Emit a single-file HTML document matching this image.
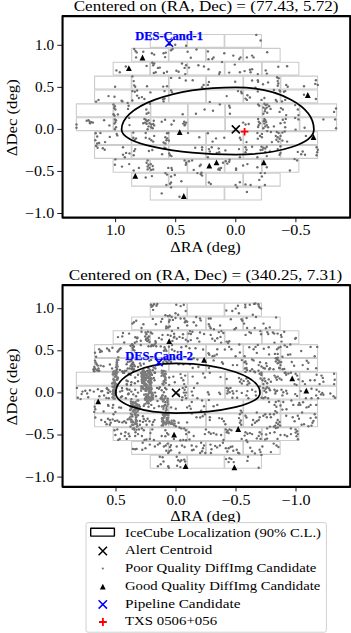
<!DOCTYPE html><html><head><meta charset="utf-8"><style>html,body{margin:0;padding:0;background:#fff;}svg{display:block;}</style></head><body><svg width="351" height="633" viewBox="0 0 351 633" font-family='"Liberation Serif", serif' stroke-linejoin="round"><rect width="351" height="633" fill="#fff"/><clipPath id="c1"><rect x="62.55" y="16.1" width="287.65" height="201.5"/></clipPath><g clip-path="url(#c1)"><g fill="none" stroke="#cccccc" stroke-width="1.1"><rect x="150.25" y="34.45" width="36.70" height="12.90"/><rect x="187.50" y="34.45" width="36.70" height="12.90"/><rect x="224.75" y="34.45" width="36.70" height="12.90"/><rect x="131.69" y="48.33" width="36.70" height="12.90"/><rect x="168.94" y="48.33" width="36.70" height="12.90"/><rect x="206.19" y="48.33" width="36.70" height="12.90"/><rect x="243.44" y="48.33" width="36.70" height="12.90"/><rect x="113.15" y="62.21" width="36.70" height="12.90"/><rect x="150.40" y="62.21" width="36.70" height="12.90"/><rect x="187.65" y="62.21" width="36.70" height="12.90"/><rect x="224.90" y="62.21" width="36.70" height="12.90"/><rect x="262.15" y="62.21" width="36.70" height="12.90"/><rect x="94.58" y="76.09" width="36.70" height="12.90"/><rect x="131.83" y="76.09" width="36.70" height="12.90"/><rect x="169.08" y="76.09" width="36.70" height="12.90"/><rect x="206.33" y="76.09" width="36.70" height="12.90"/><rect x="243.58" y="76.09" width="36.70" height="12.90"/><rect x="280.83" y="76.09" width="36.70" height="12.90"/><rect x="94.58" y="89.97" width="36.70" height="12.90"/><rect x="131.83" y="89.97" width="36.70" height="12.90"/><rect x="169.08" y="89.97" width="36.70" height="12.90"/><rect x="206.33" y="89.97" width="36.70" height="12.90"/><rect x="243.58" y="89.97" width="36.70" height="12.90"/><rect x="280.83" y="89.97" width="36.70" height="12.90"/><rect x="76.37" y="103.85" width="36.70" height="12.90"/><rect x="113.62" y="103.85" width="36.70" height="12.90"/><rect x="150.87" y="103.85" width="36.70" height="12.90"/><rect x="188.12" y="103.85" width="36.70" height="12.90"/><rect x="225.37" y="103.85" width="36.70" height="12.90"/><rect x="262.62" y="103.85" width="36.70" height="12.90"/><rect x="299.87" y="103.85" width="36.70" height="12.90"/><rect x="76.37" y="117.73" width="36.70" height="12.90"/><rect x="113.62" y="117.73" width="36.70" height="12.90"/><rect x="150.87" y="117.73" width="36.70" height="12.90"/><rect x="188.12" y="117.73" width="36.70" height="12.90"/><rect x="225.37" y="117.73" width="36.70" height="12.90"/><rect x="262.62" y="117.73" width="36.70" height="12.90"/><rect x="299.87" y="117.73" width="36.70" height="12.90"/><rect x="94.58" y="131.61" width="36.70" height="12.90"/><rect x="131.83" y="131.61" width="36.70" height="12.90"/><rect x="169.08" y="131.61" width="36.70" height="12.90"/><rect x="206.33" y="131.61" width="36.70" height="12.90"/><rect x="243.58" y="131.61" width="36.70" height="12.90"/><rect x="280.83" y="131.61" width="36.70" height="12.90"/><rect x="94.58" y="145.49" width="36.70" height="12.90"/><rect x="131.83" y="145.49" width="36.70" height="12.90"/><rect x="169.08" y="145.49" width="36.70" height="12.90"/><rect x="206.33" y="145.49" width="36.70" height="12.90"/><rect x="243.58" y="145.49" width="36.70" height="12.90"/><rect x="280.83" y="145.49" width="36.70" height="12.90"/><rect x="113.15" y="159.37" width="36.70" height="12.90"/><rect x="150.40" y="159.37" width="36.70" height="12.90"/><rect x="187.65" y="159.37" width="36.70" height="12.90"/><rect x="224.90" y="159.37" width="36.70" height="12.90"/><rect x="262.15" y="159.37" width="36.70" height="12.90"/><rect x="131.69" y="173.25" width="36.70" height="12.90"/><rect x="168.94" y="173.25" width="36.70" height="12.90"/><rect x="206.19" y="173.25" width="36.70" height="12.90"/><rect x="243.44" y="173.25" width="36.70" height="12.90"/><rect x="150.25" y="187.13" width="36.70" height="12.90"/><rect x="187.50" y="187.13" width="36.70" height="12.90"/><rect x="224.75" y="187.13" width="36.70" height="12.90"/></g><g fill="#6c6c6c"><circle cx="134.2" cy="49.0" r="1.2"/><circle cx="135.5" cy="50.9" r="1.2"/><circle cx="136.7" cy="52.4" r="1.2"/><circle cx="136.1" cy="57.4" r="1.2"/><circle cx="125.8" cy="66.5" r="1.2"/><circle cx="143.3" cy="51.8" r="1.2"/><circle cx="151.9" cy="53.3" r="1.2"/><circle cx="154.2" cy="54.6" r="1.2"/><circle cx="163.6" cy="53.3" r="1.2"/><circle cx="165.8" cy="52.6" r="1.2"/><circle cx="165.1" cy="57.1" r="1.2"/><circle cx="171.1" cy="50.3" r="1.2"/><circle cx="172.6" cy="49.0" r="1.2"/><circle cx="175.2" cy="44.7" r="1.2"/><circle cx="186.1" cy="45.8" r="1.2"/><circle cx="187.6" cy="51.8" r="1.2"/><circle cx="196.5" cy="49.5" r="1.2"/><circle cx="190.8" cy="57.8" r="1.2"/><circle cx="152.3" cy="62.7" r="1.2"/><circle cx="154.2" cy="63.5" r="1.2"/><circle cx="153.2" cy="65.3" r="1.2"/><circle cx="146.6" cy="65.9" r="1.2"/><circle cx="182.0" cy="63.5" r="1.2"/><circle cx="186.1" cy="65.3" r="1.2"/><circle cx="198.4" cy="65.3" r="1.2"/><circle cx="204.0" cy="66.5" r="1.2"/><circle cx="256.3" cy="34.9" r="1.2"/><circle cx="260.6" cy="40.5" r="1.2"/><circle cx="207.9" cy="51.4" r="1.2"/><circle cx="208.5" cy="59.3" r="1.2"/><circle cx="212.3" cy="59.0" r="1.2"/><circle cx="213.6" cy="57.4" r="1.2"/><circle cx="224.3" cy="53.3" r="1.2"/><circle cx="233.3" cy="55.6" r="1.2"/><circle cx="239.3" cy="59.0" r="1.2"/><circle cx="240.5" cy="57.4" r="1.2"/><circle cx="246.9" cy="57.4" r="1.2"/><circle cx="252.1" cy="55.6" r="1.2"/><circle cx="253.6" cy="57.4" r="1.2"/><circle cx="267.2" cy="52.2" r="1.2"/><circle cx="222.0" cy="62.1" r="1.2"/><circle cx="234.8" cy="64.6" r="1.2"/><circle cx="278.3" cy="66.8" r="1.2"/><circle cx="287.1" cy="66.2" r="1.2"/><circle cx="116.4" cy="70.4" r="1.2"/><circle cx="119.8" cy="72.3" r="1.2"/><circle cx="115.1" cy="86.7" r="1.2"/><circle cx="132.4" cy="76.4" r="1.2"/><circle cx="133.7" cy="81.1" r="1.2"/><circle cx="134.2" cy="85.4" r="1.2"/><circle cx="135.2" cy="86.7" r="1.2"/><circle cx="132.4" cy="91.1" r="1.2"/><circle cx="134.8" cy="91.8" r="1.2"/><circle cx="137.1" cy="90.5" r="1.2"/><circle cx="137.1" cy="95.6" r="1.2"/><circle cx="138.9" cy="98.0" r="1.2"/><circle cx="108.5" cy="96.1" r="1.2"/><circle cx="114.5" cy="96.7" r="1.2"/><circle cx="98.5" cy="99.9" r="1.2"/><circle cx="121.6" cy="100.8" r="1.2"/><circle cx="132.4" cy="100.5" r="1.2"/><circle cx="157.9" cy="67.9" r="1.2"/><circle cx="159.8" cy="67.6" r="1.2"/><circle cx="153.8" cy="73.0" r="1.2"/><circle cx="155.7" cy="72.3" r="1.2"/><circle cx="163.9" cy="73.0" r="1.2"/><circle cx="167.0" cy="71.7" r="1.2"/><circle cx="176.4" cy="70.8" r="1.2"/><circle cx="178.6" cy="71.7" r="1.2"/><circle cx="184.6" cy="67.9" r="1.2"/><circle cx="189.0" cy="67.6" r="1.2"/><circle cx="185.2" cy="74.1" r="1.2"/><circle cx="171.1" cy="77.9" r="1.2"/><circle cx="179.5" cy="77.9" r="1.2"/><circle cx="185.8" cy="80.5" r="1.2"/><circle cx="192.7" cy="80.2" r="1.2"/><circle cx="147.0" cy="86.2" r="1.2"/><circle cx="163.2" cy="86.6" r="1.2"/><circle cx="167.0" cy="86.2" r="1.2"/><circle cx="150.4" cy="92.4" r="1.2"/><circle cx="164.5" cy="91.1" r="1.2"/><circle cx="171.1" cy="90.5" r="1.2"/><circle cx="172.0" cy="92.4" r="1.2"/><circle cx="203.6" cy="84.9" r="1.2"/><circle cx="202.1" cy="87.3" r="1.2"/><circle cx="141.9" cy="97.1" r="1.2"/><circle cx="144.4" cy="99.0" r="1.2"/><circle cx="163.2" cy="99.3" r="1.2"/><circle cx="164.5" cy="98.6" r="1.2"/><circle cx="208.5" cy="69.3" r="1.2"/><circle cx="219.8" cy="72.3" r="1.2"/><circle cx="219.2" cy="74.1" r="1.2"/><circle cx="229.2" cy="72.6" r="1.2"/><circle cx="239.9" cy="72.3" r="1.2"/><circle cx="244.6" cy="71.1" r="1.2"/><circle cx="249.9" cy="69.8" r="1.2"/><circle cx="252.1" cy="69.3" r="1.2"/><circle cx="250.6" cy="72.3" r="1.2"/><circle cx="257.8" cy="74.1" r="1.2"/><circle cx="265.7" cy="70.4" r="1.2"/><circle cx="266.8" cy="73.6" r="1.2"/><circle cx="208.9" cy="82.0" r="1.2"/><circle cx="207.9" cy="84.9" r="1.2"/><circle cx="235.2" cy="81.7" r="1.2"/><circle cx="252.1" cy="80.5" r="1.2"/><circle cx="257.8" cy="80.2" r="1.2"/><circle cx="258.1" cy="81.7" r="1.2"/><circle cx="263.0" cy="84.3" r="1.2"/><circle cx="268.1" cy="82.4" r="1.2"/><circle cx="255.5" cy="87.7" r="1.2"/><circle cx="238.0" cy="91.1" r="1.2"/><circle cx="241.2" cy="91.8" r="1.2"/><circle cx="241.8" cy="93.3" r="1.2"/><circle cx="257.8" cy="91.4" r="1.2"/><circle cx="226.7" cy="96.1" r="1.2"/><circle cx="247.4" cy="95.2" r="1.2"/><circle cx="245.5" cy="98.6" r="1.2"/><circle cx="246.9" cy="99.9" r="1.2"/><circle cx="249.9" cy="97.5" r="1.2"/><circle cx="264.4" cy="98.0" r="1.2"/><circle cx="261.5" cy="99.9" r="1.2"/><circle cx="277.1" cy="77.3" r="1.2"/><circle cx="278.6" cy="78.3" r="1.2"/><circle cx="277.7" cy="81.1" r="1.2"/><circle cx="278.3" cy="83.5" r="1.2"/><circle cx="277.7" cy="85.8" r="1.2"/><circle cx="286.2" cy="84.9" r="1.2"/><circle cx="287.7" cy="86.7" r="1.2"/><circle cx="304.0" cy="86.2" r="1.2"/><circle cx="315.9" cy="80.2" r="1.2"/><circle cx="315.3" cy="83.9" r="1.2"/><circle cx="317.8" cy="84.9" r="1.2"/><circle cx="273.9" cy="89.9" r="1.2"/><circle cx="279.6" cy="90.5" r="1.2"/><circle cx="280.1" cy="91.4" r="1.2"/><circle cx="283.9" cy="91.8" r="1.2"/><circle cx="285.2" cy="91.1" r="1.2"/><circle cx="304.0" cy="94.8" r="1.2"/><circle cx="315.9" cy="99.0" r="1.2"/><circle cx="285.2" cy="99.9" r="1.2"/><circle cx="275.8" cy="99.9" r="1.2"/><circle cx="96.1" cy="101.6" r="1.2"/><circle cx="113.5" cy="104.4" r="1.2"/><circle cx="114.9" cy="106.3" r="1.2"/><circle cx="114.1" cy="108.1" r="1.2"/><circle cx="115.4" cy="109.5" r="1.2"/><circle cx="122.4" cy="101.4" r="1.2"/><circle cx="127.7" cy="102.9" r="1.2"/><circle cx="128.6" cy="105.7" r="1.2"/><circle cx="128.0" cy="108.9" r="1.2"/><circle cx="113.5" cy="114.2" r="1.2"/><circle cx="114.5" cy="115.7" r="1.2"/><circle cx="117.9" cy="114.5" r="1.2"/><circle cx="114.9" cy="119.4" r="1.2"/><circle cx="116.0" cy="120.2" r="1.2"/><circle cx="115.4" cy="122.1" r="1.2"/><circle cx="114.5" cy="123.6" r="1.2"/><circle cx="86.7" cy="120.7" r="1.2"/><circle cx="88.5" cy="120.2" r="1.2"/><circle cx="89.7" cy="121.7" r="1.2"/><circle cx="91.5" cy="122.1" r="1.2"/><circle cx="92.9" cy="122.6" r="1.2"/><circle cx="90.0" cy="123.2" r="1.2"/><circle cx="104.1" cy="120.2" r="1.2"/><circle cx="109.4" cy="125.4" r="1.2"/><circle cx="76.5" cy="124.5" r="1.2"/><circle cx="76.5" cy="127.7" r="1.2"/><circle cx="116.0" cy="127.3" r="1.2"/><circle cx="114.9" cy="129.2" r="1.2"/><circle cx="129.5" cy="125.1" r="1.2"/><circle cx="129.2" cy="117.9" r="1.2"/><circle cx="95.7" cy="133.3" r="1.2"/><circle cx="100.4" cy="133.0" r="1.2"/><circle cx="116.7" cy="133.9" r="1.2"/><circle cx="133.3" cy="132.6" r="1.2"/><circle cx="150.0" cy="103.8" r="1.2"/><circle cx="163.6" cy="101.4" r="1.2"/><circle cx="146.3" cy="109.5" r="1.2"/><circle cx="146.6" cy="113.8" r="1.2"/><circle cx="148.5" cy="112.7" r="1.2"/><circle cx="182.7" cy="114.2" r="1.2"/><circle cx="195.9" cy="113.8" r="1.2"/><circle cx="204.6" cy="109.5" r="1.2"/><circle cx="144.4" cy="118.9" r="1.2"/><circle cx="145.7" cy="119.8" r="1.2"/><circle cx="147.0" cy="121.3" r="1.2"/><circle cx="148.5" cy="120.2" r="1.2"/><circle cx="145.1" cy="122.6" r="1.2"/><circle cx="146.6" cy="123.9" r="1.2"/><circle cx="149.5" cy="123.2" r="1.2"/><circle cx="151.3" cy="124.5" r="1.2"/><circle cx="153.2" cy="123.9" r="1.2"/><circle cx="154.2" cy="125.4" r="1.2"/><circle cx="148.5" cy="126.4" r="1.2"/><circle cx="151.3" cy="127.3" r="1.2"/><circle cx="152.7" cy="128.3" r="1.2"/><circle cx="147.6" cy="129.2" r="1.2"/><circle cx="143.3" cy="123.2" r="1.2"/><circle cx="153.8" cy="120.7" r="1.2"/><circle cx="161.7" cy="121.7" r="1.2"/><circle cx="165.1" cy="119.8" r="1.2"/><circle cx="173.9" cy="120.7" r="1.2"/><circle cx="171.5" cy="124.5" r="1.2"/><circle cx="184.2" cy="121.7" r="1.2"/><circle cx="183.3" cy="123.6" r="1.2"/><circle cx="185.2" cy="124.5" r="1.2"/><circle cx="186.1" cy="122.6" r="1.2"/><circle cx="184.6" cy="125.4" r="1.2"/><circle cx="167.0" cy="133.3" r="1.2"/><circle cx="168.3" cy="133.0" r="1.2"/><circle cx="188.0" cy="133.0" r="1.2"/><circle cx="145.7" cy="133.0" r="1.2"/><circle cx="209.8" cy="101.9" r="1.2"/><circle cx="219.8" cy="104.4" r="1.2"/><circle cx="229.2" cy="105.7" r="1.2"/><circle cx="229.9" cy="107.6" r="1.2"/><circle cx="213.0" cy="110.8" r="1.2"/><circle cx="229.9" cy="113.8" r="1.2"/><circle cx="258.1" cy="104.4" r="1.2"/><circle cx="259.3" cy="105.7" r="1.2"/><circle cx="264.4" cy="103.8" r="1.2"/><circle cx="265.7" cy="105.1" r="1.2"/><circle cx="267.2" cy="104.4" r="1.2"/><circle cx="263.4" cy="107.6" r="1.2"/><circle cx="265.3" cy="108.9" r="1.2"/><circle cx="266.8" cy="107.6" r="1.2"/><circle cx="264.9" cy="111.3" r="1.2"/><circle cx="263.4" cy="113.8" r="1.2"/><circle cx="267.2" cy="112.7" r="1.2"/><circle cx="269.1" cy="106.3" r="1.2"/><circle cx="270.6" cy="108.9" r="1.2"/><circle cx="258.1" cy="118.9" r="1.2"/><circle cx="258.7" cy="121.7" r="1.2"/><circle cx="260.0" cy="123.2" r="1.2"/><circle cx="258.7" cy="125.1" r="1.2"/><circle cx="258.1" cy="127.0" r="1.2"/><circle cx="264.4" cy="118.9" r="1.2"/><circle cx="265.3" cy="120.2" r="1.2"/><circle cx="263.8" cy="121.3" r="1.2"/><circle cx="266.2" cy="122.1" r="1.2"/><circle cx="264.4" cy="123.6" r="1.2"/><circle cx="266.8" cy="125.1" r="1.2"/><circle cx="265.3" cy="126.4" r="1.2"/><circle cx="268.1" cy="127.3" r="1.2"/><circle cx="263.4" cy="128.3" r="1.2"/><circle cx="243.1" cy="122.6" r="1.2"/><circle cx="245.5" cy="124.5" r="1.2"/><circle cx="248.7" cy="124.0" r="1.2"/><circle cx="257.4" cy="133.0" r="1.2"/><circle cx="267.2" cy="131.1" r="1.2"/><circle cx="270.9" cy="132.0" r="1.2"/><circle cx="261.9" cy="133.9" r="1.2"/><circle cx="207.9" cy="133.3" r="1.2"/><circle cx="276.8" cy="101.4" r="1.2"/><circle cx="282.0" cy="101.4" r="1.2"/><circle cx="295.2" cy="105.1" r="1.2"/><circle cx="280.9" cy="108.1" r="1.2"/><circle cx="282.8" cy="109.5" r="1.2"/><circle cx="279.6" cy="111.9" r="1.2"/><circle cx="286.2" cy="115.1" r="1.2"/><circle cx="297.8" cy="109.5" r="1.2"/><circle cx="298.4" cy="115.1" r="1.2"/><circle cx="295.2" cy="117.9" r="1.2"/><circle cx="298.4" cy="119.4" r="1.2"/><circle cx="282.8" cy="119.8" r="1.2"/><circle cx="285.8" cy="118.9" r="1.2"/><circle cx="280.5" cy="123.2" r="1.2"/><circle cx="284.7" cy="122.6" r="1.2"/><circle cx="273.9" cy="126.4" r="1.2"/><circle cx="285.2" cy="127.3" r="1.2"/><circle cx="295.6" cy="129.6" r="1.2"/><circle cx="304.6" cy="127.7" r="1.2"/><circle cx="323.4" cy="119.4" r="1.2"/><circle cx="335.1" cy="119.4" r="1.2"/><circle cx="336.0" cy="108.5" r="1.2"/><circle cx="334.1" cy="111.9" r="1.2"/><circle cx="336.0" cy="128.3" r="1.2"/><circle cx="276.8" cy="132.0" r="1.2"/><circle cx="278.6" cy="133.0" r="1.2"/><circle cx="282.4" cy="132.6" r="1.2"/><circle cx="284.7" cy="131.5" r="1.2"/><circle cx="97.2" cy="136.5" r="1.2"/><circle cx="109.8" cy="136.9" r="1.2"/><circle cx="117.3" cy="135.4" r="1.2"/><circle cx="95.3" cy="140.3" r="1.2"/><circle cx="97.2" cy="143.5" r="1.2"/><circle cx="99.1" cy="142.9" r="1.2"/><circle cx="96.1" cy="145.9" r="1.2"/><circle cx="97.6" cy="147.8" r="1.2"/><circle cx="105.1" cy="142.1" r="1.2"/><circle cx="102.8" cy="148.2" r="1.2"/><circle cx="104.7" cy="149.7" r="1.2"/><circle cx="123.0" cy="147.2" r="1.2"/><circle cx="133.3" cy="137.8" r="1.2"/><circle cx="134.8" cy="139.7" r="1.2"/><circle cx="136.1" cy="138.4" r="1.2"/><circle cx="135.2" cy="149.1" r="1.2"/><circle cx="134.2" cy="151.0" r="1.2"/><circle cx="126.1" cy="152.9" r="1.2"/><circle cx="129.5" cy="153.4" r="1.2"/><circle cx="123.0" cy="154.7" r="1.2"/><circle cx="124.8" cy="157.2" r="1.2"/><circle cx="133.7" cy="155.3" r="1.2"/><circle cx="115.4" cy="159.4" r="1.2"/><circle cx="114.9" cy="164.7" r="1.2"/><circle cx="122.0" cy="166.6" r="1.2"/><circle cx="129.2" cy="164.1" r="1.2"/><circle cx="138.9" cy="167.9" r="1.2"/><circle cx="145.7" cy="137.8" r="1.2"/><circle cx="149.5" cy="138.8" r="1.2"/><circle cx="151.3" cy="140.3" r="1.2"/><circle cx="153.2" cy="141.6" r="1.2"/><circle cx="154.2" cy="135.9" r="1.2"/><circle cx="165.4" cy="137.3" r="1.2"/><circle cx="167.3" cy="138.4" r="1.2"/><circle cx="166.4" cy="140.3" r="1.2"/><circle cx="168.8" cy="140.6" r="1.2"/><circle cx="165.4" cy="143.5" r="1.2"/><circle cx="163.6" cy="142.5" r="1.2"/><circle cx="164.5" cy="147.8" r="1.2"/><circle cx="165.8" cy="148.5" r="1.2"/><circle cx="148.9" cy="151.0" r="1.2"/><circle cx="152.3" cy="150.0" r="1.2"/><circle cx="162.1" cy="154.2" r="1.2"/><circle cx="169.2" cy="153.4" r="1.2"/><circle cx="170.1" cy="155.3" r="1.2"/><circle cx="171.5" cy="156.1" r="1.2"/><circle cx="199.3" cy="137.3" r="1.2"/><circle cx="195.2" cy="147.8" r="1.2"/><circle cx="202.1" cy="147.2" r="1.2"/><circle cx="202.1" cy="149.7" r="1.2"/><circle cx="147.6" cy="160.4" r="1.2"/><circle cx="146.6" cy="162.8" r="1.2"/><circle cx="148.5" cy="164.7" r="1.2"/><circle cx="150.8" cy="164.1" r="1.2"/><circle cx="152.7" cy="166.0" r="1.2"/><circle cx="147.6" cy="166.6" r="1.2"/><circle cx="149.5" cy="167.9" r="1.2"/><circle cx="168.3" cy="167.9" r="1.2"/><circle cx="171.5" cy="167.9" r="1.2"/><circle cx="184.6" cy="160.4" r="1.2"/><circle cx="186.1" cy="162.8" r="1.2"/><circle cx="185.8" cy="164.7" r="1.2"/><circle cx="189.0" cy="161.3" r="1.2"/><circle cx="192.1" cy="160.4" r="1.2"/><circle cx="200.8" cy="164.7" r="1.2"/><circle cx="199.7" cy="166.0" r="1.2"/><circle cx="216.0" cy="138.4" r="1.2"/><circle cx="224.3" cy="137.8" r="1.2"/><circle cx="212.6" cy="141.6" r="1.2"/><circle cx="239.9" cy="137.8" r="1.2"/><circle cx="240.8" cy="139.7" r="1.2"/><circle cx="246.5" cy="142.1" r="1.2"/><circle cx="257.8" cy="138.8" r="1.2"/><circle cx="260.0" cy="135.9" r="1.2"/><circle cx="261.9" cy="137.3" r="1.2"/><circle cx="271.9" cy="142.1" r="1.2"/><circle cx="208.9" cy="149.1" r="1.2"/><circle cx="209.8" cy="151.5" r="1.2"/><circle cx="211.7" cy="147.2" r="1.2"/><circle cx="218.7" cy="148.5" r="1.2"/><circle cx="216.8" cy="152.9" r="1.2"/><circle cx="219.2" cy="152.3" r="1.2"/><circle cx="225.4" cy="150.4" r="1.2"/><circle cx="239.0" cy="149.1" r="1.2"/><circle cx="245.5" cy="147.2" r="1.2"/><circle cx="246.5" cy="149.7" r="1.2"/><circle cx="245.5" cy="152.3" r="1.2"/><circle cx="252.1" cy="146.7" r="1.2"/><circle cx="261.5" cy="146.7" r="1.2"/><circle cx="263.4" cy="147.8" r="1.2"/><circle cx="260.6" cy="150.0" r="1.2"/><circle cx="262.5" cy="149.7" r="1.2"/><circle cx="265.3" cy="148.5" r="1.2"/><circle cx="266.8" cy="146.7" r="1.2"/><circle cx="265.3" cy="151.9" r="1.2"/><circle cx="270.0" cy="151.5" r="1.2"/><circle cx="207.9" cy="157.2" r="1.2"/><circle cx="239.9" cy="157.2" r="1.2"/><circle cx="257.4" cy="157.2" r="1.2"/><circle cx="266.8" cy="156.1" r="1.2"/><circle cx="225.8" cy="161.3" r="1.2"/><circle cx="227.3" cy="163.6" r="1.2"/><circle cx="229.2" cy="161.7" r="1.2"/><circle cx="229.6" cy="159.8" r="1.2"/><circle cx="223.0" cy="162.8" r="1.2"/><circle cx="221.1" cy="167.9" r="1.2"/><circle cx="219.2" cy="168.5" r="1.2"/><circle cx="243.1" cy="165.5" r="1.2"/><circle cx="247.4" cy="164.1" r="1.2"/><circle cx="236.1" cy="168.5" r="1.2"/><circle cx="257.4" cy="167.3" r="1.2"/><circle cx="266.8" cy="167.3" r="1.2"/><circle cx="275.8" cy="135.9" r="1.2"/><circle cx="277.7" cy="137.3" r="1.2"/><circle cx="276.4" cy="139.7" r="1.2"/><circle cx="279.6" cy="138.8" r="1.2"/><circle cx="280.5" cy="135.9" r="1.2"/><circle cx="278.3" cy="141.6" r="1.2"/><circle cx="282.4" cy="140.6" r="1.2"/><circle cx="287.1" cy="141.6" r="1.2"/><circle cx="280.5" cy="146.3" r="1.2"/><circle cx="277.7" cy="149.1" r="1.2"/><circle cx="279.6" cy="154.7" r="1.2"/><circle cx="280.5" cy="152.9" r="1.2"/><circle cx="297.8" cy="151.9" r="1.2"/><circle cx="301.2" cy="154.2" r="1.2"/><circle cx="302.7" cy="151.5" r="1.2"/><circle cx="305.0" cy="154.7" r="1.2"/><circle cx="316.6" cy="147.2" r="1.2"/><circle cx="317.8" cy="149.7" r="1.2"/><circle cx="317.2" cy="152.3" r="1.2"/><circle cx="316.6" cy="155.3" r="1.2"/><circle cx="294.6" cy="159.1" r="1.2"/><circle cx="297.1" cy="160.4" r="1.2"/><circle cx="305.9" cy="135.9" r="1.2"/><circle cx="133.7" cy="170.5" r="1.2"/><circle cx="147.6" cy="169.4" r="1.2"/><circle cx="151.3" cy="169.9" r="1.2"/><circle cx="153.2" cy="169.4" r="1.2"/><circle cx="145.7" cy="177.5" r="1.2"/><circle cx="151.9" cy="176.1" r="1.2"/><circle cx="165.4" cy="173.1" r="1.2"/><circle cx="167.0" cy="174.6" r="1.2"/><circle cx="171.1" cy="176.5" r="1.2"/><circle cx="174.8" cy="175.0" r="1.2"/><circle cx="172.0" cy="169.9" r="1.2"/><circle cx="181.4" cy="181.2" r="1.2"/><circle cx="171.1" cy="182.5" r="1.2"/><circle cx="170.1" cy="183.7" r="1.2"/><circle cx="166.4" cy="185.0" r="1.2"/><circle cx="171.1" cy="187.4" r="1.2"/><circle cx="193.7" cy="169.9" r="1.2"/><circle cx="197.4" cy="173.1" r="1.2"/><circle cx="200.8" cy="174.3" r="1.2"/><circle cx="202.1" cy="175.6" r="1.2"/><circle cx="201.5" cy="172.8" r="1.2"/><circle cx="161.7" cy="193.4" r="1.2"/><circle cx="179.5" cy="196.8" r="1.2"/><circle cx="218.3" cy="169.4" r="1.2"/><circle cx="219.8" cy="169.9" r="1.2"/><circle cx="236.1" cy="169.9" r="1.2"/><circle cx="260.6" cy="173.1" r="1.2"/><circle cx="264.9" cy="173.1" r="1.2"/><circle cx="261.9" cy="176.5" r="1.2"/><circle cx="259.3" cy="179.9" r="1.2"/><circle cx="208.9" cy="182.5" r="1.2"/><circle cx="210.8" cy="184.0" r="1.2"/><circle cx="235.6" cy="185.0" r="1.2"/><circle cx="237.1" cy="187.4" r="1.2"/><circle cx="239.9" cy="182.2" r="1.2"/><circle cx="245.5" cy="184.4" r="1.2"/><circle cx="250.6" cy="185.0" r="1.2"/><circle cx="259.3" cy="187.4" r="1.2"/><circle cx="264.9" cy="185.0" r="1.2"/><circle cx="246.9" cy="191.9" r="1.2"/><circle cx="289.9" cy="170.5" r="1.2"/></g><g fill="#7c7c7c"></g><g fill="#000"><path d="M142.50,54.60 L145.40,60.40 L139.60,60.40 Z"/><path d="M128.90,65.20 L131.80,71.00 L126.00,71.00 Z"/><path d="M307.80,92.10 L310.70,97.90 L304.90,97.90 Z"/><path d="M179.70,129.30 L182.60,135.10 L176.80,135.10 Z"/><path d="M313.50,134.10 L316.40,139.90 L310.60,139.90 Z"/><path d="M209.30,162.80 L212.20,168.60 L206.40,168.60 Z"/><path d="M216.50,159.40 L219.40,165.20 L213.60,165.20 Z"/><path d="M263.80,159.50 L266.70,165.30 L260.90,165.30 Z"/><path d="M135.30,173.00 L138.20,178.80 L132.40,178.80 Z"/><path d="M183.80,193.10 L186.70,198.90 L180.90,198.90 Z"/></g><path d="M121.60,129.40 A114.20,42.05 0 0 1 235.80,87.35 A78.10,42.05 0 0 1 313.90,129.40 A78.10,25.20 0 0 1 235.80,154.60 A114.20,25.20 0 0 1 121.60,129.40 Z" fill="none" stroke="#000" stroke-width="1.75"/><path d="M231.80,125.40 L239.80,133.40 M231.80,133.40 L239.80,125.40" stroke="#000" stroke-width="1.5" fill="none"/><path d="M240.80,131.70 L248.40,131.70 M244.60,127.90 L244.60,135.50" stroke="#ff0000" stroke-width="1.8" fill="none"/><g fill="#000"><path d="M169.20,41.00 L171.50,45.60 L166.90,45.60 Z"/></g><path d="M165.40,39.20 L173.00,46.80 M165.40,46.80 L173.00,39.20" stroke="#0000ff" stroke-width="1.6" fill="none"/><text x="135.2" y="40.2" font-size="12" font-weight="bold" fill="#0000ff" stroke="#0000ff" stroke-width="0.25" textLength="67.8" lengthAdjust="spacingAndGlyphs">DES-Cand-1</text></g><rect x="62.55" y="16.1" width="287.65" height="201.5" fill="none" stroke="#000" stroke-width="2.1"/><path d="M57.3,45.30 H62.55 M57.3,87.35 H62.55 M57.3,129.40 H62.55 M57.3,171.45 H62.55 M57.3,213.50 H62.55 M115.60,217.6 V222.20 M175.70,217.6 V222.20 M235.80,217.6 V222.20 M295.90,217.6 V222.20" stroke="#000" stroke-width="0.9" fill="none"/><text x="54.2" y="49.70" font-size="13.6" text-anchor="end" textLength="19.09" lengthAdjust="spacingAndGlyphs" stroke="#000" stroke-width="0">1.0</text><text x="54.2" y="91.75" font-size="13.6" text-anchor="end" textLength="19.09" lengthAdjust="spacingAndGlyphs" stroke="#000" stroke-width="0">0.5</text><text x="54.2" y="133.80" font-size="13.6" text-anchor="end" textLength="19.09" lengthAdjust="spacingAndGlyphs" stroke="#000" stroke-width="0">0.0</text><text x="54.2" y="175.85" font-size="13.6" text-anchor="end" textLength="29.16" lengthAdjust="spacingAndGlyphs" stroke="#000" stroke-width="0">−0.5</text><text x="54.2" y="217.90" font-size="13.6" text-anchor="end" textLength="29.16" lengthAdjust="spacingAndGlyphs" stroke="#000" stroke-width="0">−1.0</text><text x="115.60" y="235.30" font-size="13.6" text-anchor="middle" textLength="19.09" lengthAdjust="spacingAndGlyphs" stroke="#000" stroke-width="0">1.0</text><text x="175.70" y="235.30" font-size="13.6" text-anchor="middle" textLength="19.09" lengthAdjust="spacingAndGlyphs" stroke="#000" stroke-width="0">0.5</text><text x="235.80" y="235.30" font-size="13.6" text-anchor="middle" textLength="19.09" lengthAdjust="spacingAndGlyphs" stroke="#000" stroke-width="0">0.0</text><text x="295.90" y="235.30" font-size="13.6" text-anchor="middle" textLength="29.16" lengthAdjust="spacingAndGlyphs" stroke="#000" stroke-width="0">−0.5</text><text x="206.1" y="10.60" font-size="15.0" text-anchor="middle" textLength="264.83" lengthAdjust="spacingAndGlyphs" stroke="#000" stroke-width="0">Centered on (RA, Dec) = (77.43, 5.72)</text><text x="205.5" y="251.80" font-size="15.0" text-anchor="middle" textLength="70.5" lengthAdjust="spacingAndGlyphs" stroke="#000" stroke-width="0">ΔRA (deg)</text><text transform="translate(17.1,117.75) rotate(-90)" x="0" y="0" font-size="15.0" text-anchor="middle" textLength="77.05" lengthAdjust="spacingAndGlyphs" stroke="#000" stroke-width="0">ΔDec (deg)</text><clipPath id="c2"><rect x="62.55" y="285.15" width="287.65" height="201.70000000000005"/></clipPath><g clip-path="url(#c2)"><g fill="none" stroke="#cccccc" stroke-width="1.1"><rect x="150.25" y="303.15" width="36.70" height="12.90"/><rect x="187.50" y="303.15" width="36.70" height="12.90"/><rect x="224.75" y="303.15" width="36.70" height="12.90"/><rect x="131.69" y="316.98" width="36.70" height="12.90"/><rect x="168.94" y="316.98" width="36.70" height="12.90"/><rect x="206.19" y="316.98" width="36.70" height="12.90"/><rect x="243.44" y="316.98" width="36.70" height="12.90"/><rect x="113.15" y="330.81" width="36.70" height="12.90"/><rect x="150.40" y="330.81" width="36.70" height="12.90"/><rect x="187.65" y="330.81" width="36.70" height="12.90"/><rect x="224.90" y="330.81" width="36.70" height="12.90"/><rect x="262.15" y="330.81" width="36.70" height="12.90"/><rect x="94.58" y="344.64" width="36.70" height="12.90"/><rect x="131.83" y="344.64" width="36.70" height="12.90"/><rect x="169.08" y="344.64" width="36.70" height="12.90"/><rect x="206.33" y="344.64" width="36.70" height="12.90"/><rect x="243.58" y="344.64" width="36.70" height="12.90"/><rect x="280.83" y="344.64" width="36.70" height="12.90"/><rect x="94.58" y="358.47" width="36.70" height="12.90"/><rect x="131.83" y="358.47" width="36.70" height="12.90"/><rect x="169.08" y="358.47" width="36.70" height="12.90"/><rect x="206.33" y="358.47" width="36.70" height="12.90"/><rect x="243.58" y="358.47" width="36.70" height="12.90"/><rect x="280.83" y="358.47" width="36.70" height="12.90"/><rect x="76.37" y="372.30" width="36.70" height="12.90"/><rect x="113.62" y="372.30" width="36.70" height="12.90"/><rect x="150.87" y="372.30" width="36.70" height="12.90"/><rect x="188.12" y="372.30" width="36.70" height="12.90"/><rect x="225.37" y="372.30" width="36.70" height="12.90"/><rect x="262.62" y="372.30" width="36.70" height="12.90"/><rect x="299.87" y="372.30" width="36.70" height="12.90"/><rect x="76.37" y="386.13" width="36.70" height="12.90"/><rect x="113.62" y="386.13" width="36.70" height="12.90"/><rect x="150.87" y="386.13" width="36.70" height="12.90"/><rect x="188.12" y="386.13" width="36.70" height="12.90"/><rect x="225.37" y="386.13" width="36.70" height="12.90"/><rect x="262.62" y="386.13" width="36.70" height="12.90"/><rect x="299.87" y="386.13" width="36.70" height="12.90"/><rect x="94.58" y="399.96" width="36.70" height="12.90"/><rect x="131.83" y="399.96" width="36.70" height="12.90"/><rect x="169.08" y="399.96" width="36.70" height="12.90"/><rect x="206.33" y="399.96" width="36.70" height="12.90"/><rect x="243.58" y="399.96" width="36.70" height="12.90"/><rect x="280.83" y="399.96" width="36.70" height="12.90"/><rect x="94.58" y="413.79" width="36.70" height="12.90"/><rect x="131.83" y="413.79" width="36.70" height="12.90"/><rect x="169.08" y="413.79" width="36.70" height="12.90"/><rect x="206.33" y="413.79" width="36.70" height="12.90"/><rect x="243.58" y="413.79" width="36.70" height="12.90"/><rect x="280.83" y="413.79" width="36.70" height="12.90"/><rect x="113.15" y="427.62" width="36.70" height="12.90"/><rect x="150.40" y="427.62" width="36.70" height="12.90"/><rect x="187.65" y="427.62" width="36.70" height="12.90"/><rect x="224.90" y="427.62" width="36.70" height="12.90"/><rect x="262.15" y="427.62" width="36.70" height="12.90"/><rect x="131.69" y="441.45" width="36.70" height="12.90"/><rect x="168.94" y="441.45" width="36.70" height="12.90"/><rect x="206.19" y="441.45" width="36.70" height="12.90"/><rect x="243.44" y="441.45" width="36.70" height="12.90"/><rect x="150.25" y="455.28" width="36.70" height="12.90"/><rect x="187.50" y="455.28" width="36.70" height="12.90"/><rect x="224.75" y="455.28" width="36.70" height="12.90"/></g><g fill="#6c6c6c"><circle cx="150.9" cy="304.8" r="1.2"/><circle cx="152.8" cy="305.8" r="1.2"/><circle cx="151.6" cy="306.7" r="1.2"/><circle cx="154.1" cy="304.3" r="1.2"/><circle cx="157.3" cy="303.9" r="1.2"/><circle cx="156.5" cy="305.8" r="1.2"/><circle cx="153.1" cy="309.9" r="1.2"/><circle cx="165.4" cy="315.2" r="1.2"/><circle cx="167.8" cy="316.1" r="1.2"/><circle cx="169.7" cy="315.5" r="1.2"/><circle cx="171.6" cy="317.0" r="1.2"/><circle cx="172.9" cy="319.9" r="1.2"/><circle cx="169.7" cy="319.9" r="1.2"/><circle cx="169.1" cy="321.7" r="1.2"/><circle cx="152.8" cy="318.9" r="1.2"/><circle cx="162.2" cy="318.9" r="1.2"/><circle cx="161.0" cy="321.7" r="1.2"/><circle cx="155.9" cy="324.2" r="1.2"/><circle cx="132.4" cy="323.6" r="1.2"/><circle cx="133.9" cy="322.3" r="1.2"/><circle cx="136.2" cy="320.8" r="1.2"/><circle cx="143.4" cy="324.2" r="1.2"/><circle cx="141.5" cy="328.0" r="1.2"/><circle cx="166.3" cy="326.4" r="1.2"/><circle cx="168.2" cy="327.4" r="1.2"/><circle cx="166.3" cy="328.3" r="1.2"/><circle cx="169.7" cy="326.4" r="1.2"/><circle cx="171.9" cy="331.1" r="1.2"/><circle cx="123.0" cy="333.0" r="1.2"/><circle cx="129.1" cy="333.6" r="1.2"/><circle cx="141.5" cy="331.7" r="1.2"/><circle cx="145.6" cy="332.5" r="1.2"/><circle cx="147.9" cy="331.7" r="1.2"/><circle cx="150.9" cy="332.5" r="1.2"/><circle cx="152.2" cy="333.6" r="1.2"/><circle cx="146.5" cy="334.3" r="1.2"/><circle cx="162.5" cy="334.9" r="1.2"/><circle cx="167.8" cy="334.9" r="1.2"/><circle cx="176.3" cy="304.8" r="1.2"/><circle cx="180.6" cy="306.1" r="1.2"/><circle cx="183.8" cy="304.8" r="1.2"/><circle cx="185.7" cy="311.0" r="1.2"/><circle cx="175.5" cy="313.3" r="1.2"/><circle cx="178.1" cy="314.8" r="1.2"/><circle cx="232.3" cy="311.0" r="1.2"/><circle cx="235.7" cy="308.6" r="1.2"/><circle cx="237.9" cy="305.8" r="1.2"/><circle cx="238.9" cy="313.3" r="1.2"/><circle cx="226.3" cy="310.5" r="1.2"/><circle cx="175.5" cy="318.0" r="1.2"/><circle cx="180.6" cy="318.5" r="1.2"/><circle cx="184.3" cy="318.5" r="1.2"/><circle cx="185.7" cy="320.8" r="1.2"/><circle cx="184.9" cy="322.3" r="1.2"/><circle cx="187.2" cy="321.7" r="1.2"/><circle cx="196.2" cy="317.0" r="1.2"/><circle cx="200.0" cy="318.5" r="1.2"/><circle cx="200.7" cy="320.4" r="1.2"/><circle cx="193.7" cy="322.3" r="1.2"/><circle cx="208.8" cy="318.5" r="1.2"/><circle cx="210.7" cy="318.5" r="1.2"/><circle cx="230.8" cy="319.3" r="1.2"/><circle cx="187.2" cy="325.5" r="1.2"/><circle cx="196.2" cy="325.5" r="1.2"/><circle cx="178.1" cy="328.0" r="1.2"/><circle cx="208.8" cy="324.2" r="1.2"/><circle cx="209.7" cy="326.4" r="1.2"/><circle cx="210.7" cy="328.3" r="1.2"/><circle cx="213.9" cy="329.3" r="1.2"/><circle cx="220.1" cy="325.5" r="1.2"/><circle cx="236.1" cy="328.0" r="1.2"/><circle cx="234.5" cy="329.3" r="1.2"/><circle cx="190.0" cy="331.1" r="1.2"/><circle cx="192.4" cy="331.7" r="1.2"/><circle cx="188.7" cy="333.6" r="1.2"/><circle cx="190.9" cy="334.0" r="1.2"/><circle cx="200.0" cy="332.5" r="1.2"/><circle cx="204.1" cy="334.0" r="1.2"/><circle cx="210.7" cy="334.9" r="1.2"/><circle cx="218.8" cy="332.1" r="1.2"/><circle cx="221.4" cy="331.1" r="1.2"/><circle cx="223.3" cy="333.0" r="1.2"/><circle cx="183.0" cy="334.3" r="1.2"/><circle cx="245.3" cy="304.8" r="1.2"/><circle cx="245.3" cy="307.3" r="1.2"/><circle cx="249.8" cy="304.8" r="1.2"/><circle cx="254.1" cy="303.9" r="1.2"/><circle cx="255.4" cy="303.5" r="1.2"/><circle cx="258.4" cy="304.3" r="1.2"/><circle cx="258.8" cy="306.1" r="1.2"/><circle cx="259.7" cy="307.6" r="1.2"/><circle cx="261.1" cy="308.6" r="1.2"/><circle cx="252.8" cy="314.8" r="1.2"/><circle cx="241.5" cy="319.3" r="1.2"/><circle cx="242.3" cy="320.8" r="1.2"/><circle cx="246.6" cy="318.0" r="1.2"/><circle cx="256.0" cy="317.0" r="1.2"/><circle cx="276.1" cy="317.4" r="1.2"/><circle cx="244.1" cy="323.6" r="1.2"/><circle cx="263.5" cy="323.6" r="1.2"/><circle cx="247.1" cy="328.0" r="1.2"/><circle cx="254.7" cy="328.0" r="1.2"/><circle cx="266.0" cy="328.3" r="1.2"/><circle cx="269.7" cy="327.4" r="1.2"/><circle cx="249.4" cy="332.1" r="1.2"/><circle cx="250.9" cy="333.0" r="1.2"/><circle cx="260.3" cy="331.1" r="1.2"/><circle cx="261.1" cy="334.3" r="1.2"/><circle cx="267.3" cy="332.1" r="1.2"/><circle cx="268.2" cy="334.0" r="1.2"/><circle cx="272.9" cy="332.5" r="1.2"/><circle cx="274.2" cy="333.6" r="1.2"/><circle cx="277.6" cy="333.6" r="1.2"/><circle cx="284.2" cy="331.7" r="1.2"/><circle cx="245.6" cy="334.9" r="1.2"/><circle cx="281.0" cy="334.9" r="1.2"/><circle cx="118.0" cy="337.1" r="1.2"/><circle cx="122.3" cy="336.4" r="1.2"/><circle cx="124.2" cy="342.5" r="1.2"/><circle cx="132.0" cy="344.2" r="1.2"/><circle cx="130.6" cy="345.7" r="1.2"/><circle cx="99.2" cy="349.2" r="1.2"/><circle cx="100.7" cy="350.7" r="1.2"/><circle cx="101.8" cy="351.4" r="1.2"/><circle cx="100.0" cy="352.1" r="1.2"/><circle cx="107.1" cy="348.5" r="1.2"/><circle cx="108.9" cy="349.9" r="1.2"/><circle cx="109.5" cy="351.1" r="1.2"/><circle cx="112.4" cy="347.8" r="1.2"/><circle cx="118.5" cy="350.7" r="1.2"/><circle cx="119.5" cy="349.2" r="1.2"/><circle cx="120.6" cy="348.2" r="1.2"/><circle cx="117.5" cy="351.7" r="1.2"/><circle cx="95.0" cy="352.8" r="1.2"/><circle cx="96.1" cy="356.8" r="1.2"/><circle cx="95.0" cy="360.6" r="1.2"/><circle cx="95.7" cy="362.5" r="1.2"/><circle cx="96.7" cy="364.2" r="1.2"/><circle cx="97.8" cy="365.6" r="1.2"/><circle cx="94.3" cy="367.0" r="1.2"/><circle cx="95.3" cy="368.7" r="1.2"/><circle cx="97.1" cy="370.2" r="1.2"/><circle cx="98.5" cy="368.5" r="1.2"/><circle cx="93.5" cy="369.2" r="1.2"/><circle cx="99.2" cy="370.6" r="1.2"/><circle cx="94.3" cy="371.3" r="1.2"/><circle cx="100.7" cy="365.6" r="1.2"/><circle cx="103.5" cy="366.3" r="1.2"/><circle cx="109.9" cy="364.5" r="1.2"/><circle cx="117.1" cy="362.8" r="1.2"/><circle cx="116.6" cy="364.9" r="1.2"/><circle cx="116.1" cy="367.3" r="1.2"/><circle cx="117.1" cy="369.2" r="1.2"/><circle cx="115.6" cy="370.6" r="1.2"/><circle cx="113.5" cy="372.0" r="1.2"/><circle cx="114.9" cy="373.4" r="1.2"/><circle cx="112.1" cy="368.5" r="1.2"/><circle cx="119.9" cy="369.9" r="1.2"/><circle cx="122.3" cy="371.3" r="1.2"/><circle cx="124.2" cy="372.7" r="1.2"/><circle cx="126.3" cy="370.6" r="1.2"/><circle cx="127.7" cy="368.5" r="1.2"/><circle cx="126.6" cy="364.2" r="1.2"/><circle cx="127.7" cy="362.1" r="1.2"/><circle cx="131.3" cy="359.9" r="1.2"/><circle cx="132.7" cy="364.2" r="1.2"/><circle cx="132.0" cy="368.5" r="1.2"/><circle cx="133.4" cy="371.3" r="1.2"/><circle cx="137.1" cy="338.3" r="1.2"/><circle cx="136.7" cy="341.6" r="1.2"/><circle cx="138.0" cy="367.0" r="1.2"/><circle cx="135.3" cy="337.3" r="1.2"/><circle cx="137.4" cy="337.5" r="1.2"/><circle cx="140.8" cy="340.7" r="1.2"/><circle cx="145.1" cy="336.4" r="1.2"/><circle cx="146.4" cy="338.6" r="1.2"/><circle cx="147.7" cy="337.7" r="1.2"/><circle cx="148.5" cy="339.8" r="1.2"/><circle cx="147.2" cy="341.1" r="1.2"/><circle cx="149.4" cy="342.0" r="1.2"/><circle cx="145.9" cy="339.8" r="1.2"/><circle cx="148.9" cy="336.4" r="1.2"/><circle cx="134.8" cy="342.7" r="1.2"/><circle cx="140.8" cy="345.0" r="1.2"/><circle cx="133.1" cy="345.4" r="1.2"/><circle cx="134.0" cy="346.7" r="1.2"/><circle cx="132.7" cy="348.0" r="1.2"/><circle cx="133.1" cy="349.7" r="1.2"/><circle cx="134.4" cy="350.5" r="1.2"/><circle cx="151.1" cy="346.3" r="1.2"/><circle cx="151.9" cy="345.0" r="1.2"/><circle cx="154.5" cy="344.5" r="1.2"/><circle cx="155.8" cy="342.8" r="1.2"/><circle cx="156.2" cy="346.3" r="1.2"/><circle cx="155.4" cy="341.1" r="1.2"/><circle cx="129.7" cy="361.6" r="1.2"/><circle cx="131.4" cy="360.8" r="1.2"/><circle cx="133.1" cy="362.5" r="1.2"/><circle cx="131.8" cy="364.2" r="1.2"/><circle cx="134.0" cy="364.6" r="1.2"/><circle cx="130.6" cy="365.9" r="1.2"/><circle cx="132.7" cy="366.8" r="1.2"/><circle cx="134.8" cy="366.3" r="1.2"/><circle cx="129.7" cy="368.5" r="1.2"/><circle cx="131.8" cy="368.9" r="1.2"/><circle cx="134.0" cy="369.3" r="1.2"/><circle cx="140.0" cy="363.4" r="1.2"/><circle cx="140.8" cy="365.5" r="1.2"/><circle cx="149.4" cy="360.8" r="1.2"/><circle cx="151.1" cy="359.9" r="1.2"/><circle cx="143.4" cy="370.2" r="1.2"/><circle cx="145.1" cy="371.9" r="1.2"/><circle cx="147.2" cy="371.0" r="1.2"/><circle cx="143.0" cy="373.6" r="1.2"/><circle cx="146.0" cy="374.5" r="1.2"/><circle cx="148.5" cy="373.6" r="1.2"/><circle cx="150.2" cy="371.9" r="1.2"/><circle cx="152.8" cy="370.2" r="1.2"/><circle cx="154.5" cy="372.8" r="1.2"/><circle cx="151.9" cy="374.9" r="1.2"/><circle cx="155.4" cy="368.5" r="1.2"/><circle cx="153.6" cy="367.6" r="1.2"/><circle cx="128.9" cy="373.6" r="1.2"/><circle cx="130.6" cy="374.9" r="1.2"/><circle cx="158.9" cy="337.9" r="1.2"/><circle cx="161.7" cy="339.4" r="1.2"/><circle cx="173.9" cy="337.5" r="1.2"/><circle cx="176.7" cy="338.8" r="1.2"/><circle cx="179.5" cy="336.9" r="1.2"/><circle cx="182.7" cy="337.9" r="1.2"/><circle cx="185.8" cy="339.8" r="1.2"/><circle cx="188.0" cy="341.3" r="1.2"/><circle cx="190.8" cy="340.1" r="1.2"/><circle cx="197.4" cy="338.3" r="1.2"/><circle cx="199.3" cy="341.6" r="1.2"/><circle cx="148.5" cy="346.3" r="1.2"/><circle cx="153.2" cy="345.8" r="1.2"/><circle cx="164.5" cy="347.3" r="1.2"/><circle cx="165.4" cy="349.2" r="1.2"/><circle cx="163.9" cy="350.7" r="1.2"/><circle cx="166.4" cy="351.0" r="1.2"/><circle cx="172.0" cy="349.5" r="1.2"/><circle cx="174.5" cy="351.0" r="1.2"/><circle cx="181.4" cy="347.3" r="1.2"/><circle cx="186.1" cy="346.3" r="1.2"/><circle cx="189.5" cy="348.2" r="1.2"/><circle cx="195.5" cy="348.2" r="1.2"/><circle cx="203.1" cy="349.5" r="1.2"/><circle cx="177.7" cy="352.0" r="1.2"/><circle cx="164.5" cy="360.1" r="1.2"/><circle cx="166.4" cy="361.4" r="1.2"/><circle cx="169.2" cy="360.4" r="1.2"/><circle cx="171.1" cy="361.9" r="1.2"/><circle cx="163.2" cy="362.3" r="1.2"/><circle cx="167.3" cy="362.7" r="1.2"/><circle cx="165.4" cy="358.6" r="1.2"/><circle cx="193.7" cy="358.2" r="1.2"/><circle cx="197.4" cy="359.5" r="1.2"/><circle cx="143.8" cy="363.8" r="1.2"/><circle cx="178.6" cy="364.2" r="1.2"/><circle cx="183.3" cy="364.2" r="1.2"/><circle cx="189.9" cy="364.2" r="1.2"/><circle cx="192.7" cy="368.0" r="1.2"/><circle cx="198.4" cy="367.0" r="1.2"/><circle cx="148.5" cy="368.3" r="1.2"/><circle cx="212.3" cy="338.8" r="1.2"/><circle cx="214.9" cy="340.7" r="1.2"/><circle cx="217.3" cy="338.3" r="1.2"/><circle cx="220.5" cy="336.9" r="1.2"/><circle cx="221.1" cy="342.6" r="1.2"/><circle cx="226.7" cy="341.6" r="1.2"/><circle cx="228.1" cy="343.1" r="1.2"/><circle cx="229.2" cy="341.3" r="1.2"/><circle cx="239.3" cy="344.5" r="1.2"/><circle cx="217.3" cy="349.2" r="1.2"/><circle cx="224.9" cy="349.5" r="1.2"/><circle cx="229.2" cy="346.9" r="1.2"/><circle cx="231.4" cy="349.2" r="1.2"/><circle cx="249.3" cy="347.3" r="1.2"/><circle cx="253.6" cy="349.2" r="1.2"/><circle cx="255.5" cy="346.9" r="1.2"/><circle cx="257.8" cy="345.0" r="1.2"/><circle cx="263.8" cy="348.8" r="1.2"/><circle cx="268.7" cy="347.3" r="1.2"/><circle cx="208.5" cy="353.3" r="1.2"/><circle cx="209.3" cy="354.8" r="1.2"/><circle cx="212.6" cy="356.3" r="1.2"/><circle cx="214.5" cy="355.7" r="1.2"/><circle cx="216.8" cy="354.4" r="1.2"/><circle cx="235.6" cy="356.3" r="1.2"/><circle cx="239.9" cy="352.5" r="1.2"/><circle cx="244.6" cy="356.3" r="1.2"/><circle cx="256.8" cy="352.9" r="1.2"/><circle cx="269.1" cy="354.4" r="1.2"/><circle cx="213.6" cy="360.4" r="1.2"/><circle cx="222.0" cy="362.3" r="1.2"/><circle cx="223.0" cy="363.8" r="1.2"/><circle cx="232.9" cy="365.1" r="1.2"/><circle cx="237.1" cy="365.1" r="1.2"/><circle cx="241.8" cy="360.1" r="1.2"/><circle cx="244.6" cy="362.3" r="1.2"/><circle cx="246.5" cy="363.8" r="1.2"/><circle cx="245.5" cy="361.4" r="1.2"/><circle cx="252.1" cy="359.5" r="1.2"/><circle cx="253.6" cy="360.4" r="1.2"/><circle cx="260.0" cy="362.3" r="1.2"/><circle cx="258.7" cy="365.1" r="1.2"/><circle cx="261.5" cy="366.5" r="1.2"/><circle cx="263.4" cy="368.0" r="1.2"/><circle cx="266.2" cy="363.3" r="1.2"/><circle cx="266.8" cy="366.1" r="1.2"/><circle cx="270.0" cy="368.3" r="1.2"/><circle cx="246.5" cy="368.0" r="1.2"/><circle cx="208.9" cy="368.0" r="1.2"/><circle cx="281.5" cy="336.9" r="1.2"/><circle cx="295.2" cy="338.8" r="1.2"/><circle cx="295.9" cy="337.9" r="1.2"/><circle cx="274.5" cy="342.6" r="1.2"/><circle cx="281.5" cy="341.6" r="1.2"/><circle cx="290.3" cy="344.5" r="1.2"/><circle cx="287.1" cy="346.9" r="1.2"/><circle cx="284.7" cy="345.4" r="1.2"/><circle cx="278.6" cy="347.7" r="1.2"/><circle cx="280.5" cy="346.9" r="1.2"/><circle cx="277.1" cy="349.2" r="1.2"/><circle cx="301.2" cy="351.0" r="1.2"/><circle cx="310.6" cy="346.9" r="1.2"/><circle cx="317.2" cy="346.9" r="1.2"/><circle cx="274.9" cy="353.9" r="1.2"/><circle cx="277.7" cy="353.9" r="1.2"/><circle cx="288.0" cy="354.8" r="1.2"/><circle cx="290.3" cy="354.4" r="1.2"/><circle cx="282.4" cy="356.7" r="1.2"/><circle cx="314.7" cy="356.3" r="1.2"/><circle cx="275.8" cy="358.2" r="1.2"/><circle cx="277.1" cy="359.5" r="1.2"/><circle cx="275.8" cy="361.4" r="1.2"/><circle cx="278.6" cy="360.4" r="1.2"/><circle cx="277.7" cy="363.3" r="1.2"/><circle cx="279.6" cy="362.3" r="1.2"/><circle cx="280.5" cy="365.1" r="1.2"/><circle cx="291.8" cy="362.0" r="1.2"/><circle cx="306.8" cy="360.8" r="1.2"/><circle cx="308.4" cy="362.7" r="1.2"/><circle cx="294.1" cy="365.7" r="1.2"/><circle cx="302.7" cy="365.1" r="1.2"/><circle cx="279.6" cy="368.3" r="1.2"/><circle cx="284.3" cy="368.9" r="1.2"/><circle cx="307.8" cy="368.9" r="1.2"/><circle cx="316.2" cy="368.3" r="1.2"/><circle cx="93.8" cy="370.9" r="1.2"/><circle cx="98.5" cy="370.9" r="1.2"/><circle cx="124.8" cy="370.9" r="1.2"/><circle cx="123.0" cy="372.8" r="1.2"/><circle cx="135.2" cy="377.5" r="1.2"/><circle cx="138.0" cy="374.7" r="1.2"/><circle cx="127.7" cy="381.3" r="1.2"/><circle cx="131.4" cy="382.2" r="1.2"/><circle cx="126.7" cy="384.1" r="1.2"/><circle cx="131.0" cy="385.0" r="1.2"/><circle cx="134.8" cy="383.2" r="1.2"/><circle cx="138.0" cy="381.3" r="1.2"/><circle cx="76.9" cy="387.9" r="1.2"/><circle cx="82.5" cy="391.6" r="1.2"/><circle cx="85.3" cy="390.7" r="1.2"/><circle cx="81.6" cy="394.1" r="1.2"/><circle cx="87.2" cy="393.5" r="1.2"/><circle cx="90.0" cy="390.3" r="1.2"/><circle cx="93.8" cy="391.6" r="1.2"/><circle cx="97.9" cy="389.2" r="1.2"/><circle cx="102.3" cy="391.1" r="1.2"/><circle cx="107.0" cy="388.8" r="1.2"/><circle cx="107.9" cy="392.6" r="1.2"/><circle cx="104.1" cy="395.4" r="1.2"/><circle cx="88.2" cy="397.3" r="1.2"/><circle cx="77.8" cy="397.8" r="1.2"/><circle cx="80.6" cy="399.1" r="1.2"/><circle cx="99.4" cy="396.3" r="1.2"/><circle cx="108.8" cy="398.2" r="1.2"/><circle cx="126.7" cy="388.8" r="1.2"/><circle cx="129.5" cy="389.7" r="1.2"/><circle cx="131.4" cy="391.6" r="1.2"/><circle cx="128.6" cy="393.5" r="1.2"/><circle cx="135.2" cy="389.7" r="1.2"/><circle cx="138.0" cy="392.6" r="1.2"/><circle cx="133.3" cy="394.4" r="1.2"/><circle cx="136.1" cy="396.3" r="1.2"/><circle cx="122.0" cy="396.3" r="1.2"/><circle cx="125.8" cy="398.2" r="1.2"/><circle cx="131.4" cy="399.1" r="1.2"/><circle cx="120.1" cy="391.6" r="1.2"/><circle cx="122.0" cy="387.9" r="1.2"/><circle cx="106.8" cy="388.2" r="1.2"/><circle cx="108.5" cy="389.9" r="1.2"/><circle cx="108.1" cy="392.9" r="1.2"/><circle cx="110.3" cy="391.6" r="1.2"/><circle cx="101.3" cy="391.2" r="1.2"/><circle cx="106.4" cy="398.0" r="1.2"/><circle cx="108.1" cy="404.9" r="1.2"/><circle cx="113.2" cy="404.9" r="1.2"/><circle cx="126.5" cy="380.5" r="1.2"/><circle cx="126.9" cy="384.8" r="1.2"/><circle cx="122.2" cy="390.8" r="1.2"/><circle cx="120.9" cy="397.2" r="1.2"/><circle cx="127.4" cy="389.5" r="1.2"/><circle cx="128.2" cy="394.2" r="1.2"/><circle cx="155.1" cy="372.8" r="1.2"/><circle cx="153.8" cy="377.9" r="1.2"/><circle cx="154.5" cy="380.3" r="1.2"/><circle cx="163.6" cy="370.9" r="1.2"/><circle cx="165.1" cy="373.8" r="1.2"/><circle cx="164.5" cy="376.6" r="1.2"/><circle cx="165.4" cy="379.0" r="1.2"/><circle cx="163.9" cy="381.7" r="1.2"/><circle cx="163.2" cy="384.1" r="1.2"/><circle cx="159.8" cy="387.3" r="1.2"/><circle cx="165.1" cy="387.9" r="1.2"/><circle cx="166.4" cy="389.2" r="1.2"/><circle cx="161.7" cy="390.3" r="1.2"/><circle cx="163.9" cy="392.2" r="1.2"/><circle cx="162.6" cy="395.4" r="1.2"/><circle cx="165.4" cy="396.3" r="1.2"/><circle cx="160.7" cy="398.2" r="1.2"/><circle cx="163.6" cy="400.1" r="1.2"/><circle cx="165.4" cy="402.3" r="1.2"/><circle cx="157.0" cy="387.9" r="1.2"/><circle cx="158.9" cy="388.8" r="1.2"/><circle cx="155.1" cy="392.6" r="1.2"/><circle cx="156.0" cy="396.3" r="1.2"/><circle cx="152.7" cy="399.1" r="1.2"/><circle cx="157.5" cy="401.0" r="1.2"/><circle cx="169.2" cy="377.5" r="1.2"/><circle cx="173.3" cy="376.6" r="1.2"/><circle cx="174.8" cy="382.2" r="1.2"/><circle cx="169.2" cy="385.0" r="1.2"/><circle cx="180.5" cy="374.1" r="1.2"/><circle cx="181.4" cy="377.9" r="1.2"/><circle cx="183.3" cy="380.3" r="1.2"/><circle cx="185.2" cy="375.6" r="1.2"/><circle cx="184.2" cy="384.1" r="1.2"/><circle cx="182.7" cy="387.9" r="1.2"/><circle cx="184.6" cy="389.7" r="1.2"/><circle cx="183.9" cy="392.6" r="1.2"/><circle cx="185.2" cy="395.4" r="1.2"/><circle cx="182.4" cy="397.3" r="1.2"/><circle cx="186.1" cy="398.2" r="1.2"/><circle cx="182.0" cy="400.1" r="1.2"/><circle cx="185.8" cy="386.9" r="1.2"/><circle cx="186.1" cy="392.6" r="1.2"/><circle cx="192.7" cy="376.6" r="1.2"/><circle cx="197.4" cy="383.2" r="1.2"/><circle cx="194.0" cy="387.9" r="1.2"/><circle cx="191.8" cy="391.6" r="1.2"/><circle cx="192.7" cy="395.4" r="1.2"/><circle cx="197.4" cy="398.2" r="1.2"/><circle cx="202.1" cy="400.5" r="1.2"/><circle cx="191.8" cy="402.0" r="1.2"/><circle cx="203.1" cy="373.4" r="1.2"/><circle cx="204.9" cy="377.5" r="1.2"/><circle cx="178.6" cy="394.4" r="1.2"/><circle cx="209.8" cy="372.8" r="1.2"/><circle cx="220.5" cy="377.1" r="1.2"/><circle cx="226.7" cy="379.0" r="1.2"/><circle cx="239.0" cy="377.9" r="1.2"/><circle cx="241.2" cy="379.4" r="1.2"/><circle cx="239.9" cy="381.7" r="1.2"/><circle cx="241.8" cy="383.5" r="1.2"/><circle cx="243.7" cy="380.9" r="1.2"/><circle cx="246.5" cy="378.5" r="1.2"/><circle cx="248.0" cy="381.3" r="1.2"/><circle cx="249.3" cy="383.2" r="1.2"/><circle cx="247.4" cy="384.7" r="1.2"/><circle cx="245.5" cy="371.9" r="1.2"/><circle cx="250.2" cy="370.9" r="1.2"/><circle cx="255.0" cy="372.3" r="1.2"/><circle cx="259.7" cy="373.8" r="1.2"/><circle cx="261.5" cy="372.8" r="1.2"/><circle cx="260.6" cy="378.5" r="1.2"/><circle cx="262.5" cy="380.3" r="1.2"/><circle cx="264.4" cy="378.5" r="1.2"/><circle cx="265.3" cy="381.3" r="1.2"/><circle cx="267.2" cy="383.2" r="1.2"/><circle cx="263.4" cy="384.1" r="1.2"/><circle cx="268.7" cy="379.4" r="1.2"/><circle cx="270.9" cy="381.7" r="1.2"/><circle cx="259.7" cy="386.5" r="1.2"/><circle cx="263.4" cy="387.9" r="1.2"/><circle cx="265.7" cy="388.8" r="1.2"/><circle cx="267.2" cy="387.3" r="1.2"/><circle cx="269.1" cy="388.4" r="1.2"/><circle cx="264.4" cy="390.7" r="1.2"/><circle cx="266.2" cy="392.2" r="1.2"/><circle cx="270.0" cy="390.3" r="1.2"/><circle cx="226.7" cy="387.9" r="1.2"/><circle cx="228.6" cy="388.8" r="1.2"/><circle cx="230.5" cy="387.9" r="1.2"/><circle cx="227.7" cy="390.7" r="1.2"/><circle cx="229.6" cy="392.2" r="1.2"/><circle cx="232.4" cy="391.1" r="1.2"/><circle cx="233.3" cy="393.5" r="1.2"/><circle cx="227.3" cy="393.5" r="1.2"/><circle cx="236.7" cy="391.1" r="1.2"/><circle cx="241.8" cy="392.9" r="1.2"/><circle cx="247.4" cy="391.1" r="1.2"/><circle cx="252.1" cy="389.7" r="1.2"/><circle cx="255.5" cy="391.6" r="1.2"/><circle cx="246.5" cy="395.4" r="1.2"/><circle cx="255.9" cy="395.4" r="1.2"/><circle cx="207.9" cy="392.2" r="1.2"/><circle cx="208.9" cy="394.4" r="1.2"/><circle cx="219.2" cy="392.6" r="1.2"/><circle cx="220.2" cy="394.1" r="1.2"/><circle cx="232.4" cy="397.8" r="1.2"/><circle cx="237.1" cy="397.8" r="1.2"/><circle cx="248.4" cy="398.2" r="1.2"/><circle cx="261.5" cy="397.8" r="1.2"/><circle cx="263.4" cy="398.2" r="1.2"/><circle cx="265.3" cy="397.3" r="1.2"/><circle cx="268.1" cy="398.2" r="1.2"/><circle cx="208.9" cy="400.1" r="1.2"/><circle cx="269.1" cy="402.0" r="1.2"/><circle cx="274.5" cy="375.6" r="1.2"/><circle cx="275.8" cy="377.5" r="1.2"/><circle cx="277.7" cy="376.6" r="1.2"/><circle cx="279.6" cy="378.5" r="1.2"/><circle cx="281.5" cy="379.8" r="1.2"/><circle cx="276.8" cy="379.8" r="1.2"/><circle cx="284.7" cy="372.8" r="1.2"/><circle cx="286.2" cy="374.7" r="1.2"/><circle cx="290.9" cy="372.8" r="1.2"/><circle cx="295.6" cy="373.8" r="1.2"/><circle cx="297.1" cy="375.6" r="1.2"/><circle cx="298.4" cy="379.4" r="1.2"/><circle cx="294.6" cy="384.1" r="1.2"/><circle cx="296.5" cy="385.0" r="1.2"/><circle cx="302.7" cy="381.3" r="1.2"/><circle cx="305.0" cy="384.1" r="1.2"/><circle cx="310.2" cy="380.3" r="1.2"/><circle cx="314.7" cy="380.3" r="1.2"/><circle cx="316.6" cy="374.7" r="1.2"/><circle cx="321.5" cy="375.6" r="1.2"/><circle cx="322.8" cy="377.9" r="1.2"/><circle cx="319.6" cy="384.1" r="1.2"/><circle cx="323.4" cy="381.7" r="1.2"/><circle cx="334.1" cy="373.8" r="1.2"/><circle cx="334.7" cy="379.8" r="1.2"/><circle cx="334.1" cy="384.1" r="1.2"/><circle cx="274.5" cy="389.7" r="1.2"/><circle cx="275.8" cy="391.6" r="1.2"/><circle cx="277.1" cy="390.7" r="1.2"/><circle cx="275.3" cy="393.5" r="1.2"/><circle cx="281.5" cy="389.7" r="1.2"/><circle cx="283.3" cy="392.2" r="1.2"/><circle cx="286.2" cy="390.7" r="1.2"/><circle cx="287.1" cy="393.5" r="1.2"/><circle cx="282.4" cy="395.4" r="1.2"/><circle cx="295.2" cy="394.1" r="1.2"/><circle cx="297.1" cy="395.9" r="1.2"/><circle cx="300.8" cy="391.1" r="1.2"/><circle cx="311.5" cy="388.8" r="1.2"/><circle cx="316.6" cy="389.7" r="1.2"/><circle cx="319.1" cy="391.6" r="1.2"/><circle cx="322.3" cy="392.9" r="1.2"/><circle cx="323.4" cy="394.8" r="1.2"/><circle cx="321.0" cy="394.4" r="1.2"/><circle cx="316.2" cy="395.4" r="1.2"/><circle cx="318.1" cy="398.2" r="1.2"/><circle cx="330.4" cy="393.5" r="1.2"/><circle cx="333.5" cy="396.3" r="1.2"/><circle cx="335.1" cy="397.8" r="1.2"/><circle cx="311.5" cy="398.2" r="1.2"/><circle cx="305.9" cy="398.2" r="1.2"/><circle cx="278.6" cy="401.0" r="1.2"/><circle cx="275.8" cy="402.0" r="1.2"/><circle cx="283.3" cy="402.0" r="1.2"/><circle cx="291.4" cy="400.5" r="1.2"/><circle cx="299.3" cy="402.9" r="1.2"/><circle cx="303.1" cy="402.3" r="1.2"/><circle cx="94.7" cy="406.8" r="1.2"/><circle cx="95.3" cy="409.3" r="1.2"/><circle cx="94.2" cy="411.9" r="1.2"/><circle cx="103.6" cy="411.5" r="1.2"/><circle cx="108.5" cy="405.9" r="1.2"/><circle cx="112.6" cy="407.8" r="1.2"/><circle cx="115.4" cy="411.9" r="1.2"/><circle cx="113.5" cy="414.3" r="1.2"/><circle cx="119.2" cy="407.4" r="1.2"/><circle cx="121.1" cy="407.8" r="1.2"/><circle cx="95.3" cy="417.5" r="1.2"/><circle cx="101.3" cy="420.0" r="1.2"/><circle cx="105.1" cy="421.9" r="1.2"/><circle cx="107.9" cy="418.7" r="1.2"/><circle cx="109.8" cy="420.0" r="1.2"/><circle cx="110.7" cy="422.8" r="1.2"/><circle cx="112.6" cy="419.4" r="1.2"/><circle cx="114.9" cy="420.9" r="1.2"/><circle cx="117.3" cy="420.5" r="1.2"/><circle cx="119.2" cy="421.9" r="1.2"/><circle cx="122.4" cy="422.4" r="1.2"/><circle cx="124.3" cy="421.3" r="1.2"/><circle cx="126.1" cy="422.8" r="1.2"/><circle cx="127.7" cy="419.4" r="1.2"/><circle cx="106.6" cy="424.3" r="1.2"/><circle cx="109.8" cy="424.7" r="1.2"/><circle cx="129.5" cy="418.1" r="1.2"/><circle cx="131.4" cy="408.7" r="1.2"/><circle cx="133.3" cy="411.5" r="1.2"/><circle cx="134.8" cy="414.3" r="1.2"/><circle cx="132.4" cy="416.2" r="1.2"/><circle cx="136.1" cy="417.2" r="1.2"/><circle cx="138.0" cy="415.3" r="1.2"/><circle cx="131.4" cy="420.0" r="1.2"/><circle cx="133.3" cy="421.9" r="1.2"/><circle cx="135.2" cy="423.7" r="1.2"/><circle cx="132.4" cy="424.7" r="1.2"/><circle cx="130.5" cy="426.6" r="1.2"/><circle cx="137.1" cy="426.6" r="1.2"/><circle cx="134.2" cy="428.4" r="1.2"/><circle cx="138.9" cy="429.4" r="1.2"/><circle cx="135.5" cy="432.2" r="1.2"/><circle cx="138.0" cy="434.1" r="1.2"/><circle cx="135.2" cy="436.0" r="1.2"/><circle cx="139.9" cy="406.8" r="1.2"/><circle cx="138.6" cy="409.6" r="1.2"/><circle cx="139.9" cy="420.9" r="1.2"/><circle cx="139.9" cy="424.7" r="1.2"/><circle cx="114.5" cy="430.3" r="1.2"/><circle cx="117.3" cy="429.4" r="1.2"/><circle cx="121.1" cy="433.7" r="1.2"/><circle cx="125.4" cy="432.2" r="1.2"/><circle cx="128.6" cy="433.7" r="1.2"/><circle cx="129.5" cy="436.3" r="1.2"/><circle cx="124.8" cy="436.0" r="1.2"/><circle cx="115.4" cy="435.0" r="1.2"/><circle cx="143.8" cy="405.9" r="1.2"/><circle cx="148.5" cy="406.8" r="1.2"/><circle cx="151.3" cy="404.9" r="1.2"/><circle cx="154.2" cy="408.1" r="1.2"/><circle cx="158.9" cy="406.3" r="1.2"/><circle cx="163.6" cy="406.8" r="1.2"/><circle cx="165.1" cy="404.9" r="1.2"/><circle cx="166.4" cy="408.1" r="1.2"/><circle cx="171.1" cy="407.4" r="1.2"/><circle cx="175.8" cy="408.7" r="1.2"/><circle cx="187.1" cy="407.4" r="1.2"/><circle cx="189.5" cy="405.9" r="1.2"/><circle cx="190.8" cy="408.7" r="1.2"/><circle cx="201.2" cy="410.6" r="1.2"/><circle cx="204.0" cy="406.3" r="1.2"/><circle cx="169.2" cy="421.9" r="1.2"/><circle cx="171.1" cy="423.7" r="1.2"/><circle cx="173.9" cy="424.7" r="1.2"/><circle cx="175.8" cy="426.2" r="1.2"/><circle cx="178.6" cy="422.8" r="1.2"/><circle cx="187.1" cy="422.4" r="1.2"/><circle cx="179.5" cy="427.5" r="1.2"/><circle cx="181.4" cy="428.4" r="1.2"/><circle cx="184.2" cy="428.4" r="1.2"/><circle cx="191.8" cy="413.4" r="1.2"/><circle cx="196.5" cy="417.2" r="1.2"/><circle cx="200.2" cy="417.5" r="1.2"/><circle cx="202.7" cy="416.2" r="1.2"/><circle cx="204.9" cy="414.3" r="1.2"/><circle cx="142.9" cy="416.2" r="1.2"/><circle cx="143.8" cy="419.0" r="1.2"/><circle cx="142.9" cy="421.9" r="1.2"/><circle cx="145.7" cy="420.9" r="1.2"/><circle cx="147.6" cy="418.7" r="1.2"/><circle cx="149.5" cy="421.3" r="1.2"/><circle cx="153.2" cy="421.9" r="1.2"/><circle cx="154.5" cy="420.0" r="1.2"/><circle cx="152.3" cy="424.7" r="1.2"/><circle cx="146.6" cy="424.7" r="1.2"/><circle cx="141.9" cy="428.4" r="1.2"/><circle cx="143.8" cy="430.3" r="1.2"/><circle cx="152.3" cy="429.4" r="1.2"/><circle cx="150.4" cy="433.1" r="1.2"/><circle cx="165.4" cy="430.3" r="1.2"/><circle cx="167.0" cy="433.1" r="1.2"/><circle cx="168.3" cy="434.5" r="1.2"/><circle cx="161.7" cy="436.0" r="1.2"/><circle cx="165.4" cy="436.3" r="1.2"/><circle cx="185.8" cy="430.3" r="1.2"/><circle cx="186.1" cy="434.1" r="1.2"/><circle cx="189.0" cy="432.2" r="1.2"/><circle cx="193.7" cy="436.0" r="1.2"/><circle cx="204.9" cy="434.1" r="1.2"/><circle cx="205.9" cy="429.4" r="1.2"/><circle cx="141.9" cy="436.0" r="1.2"/><circle cx="213.6" cy="406.3" r="1.2"/><circle cx="217.3" cy="404.9" r="1.2"/><circle cx="240.8" cy="410.6" r="1.2"/><circle cx="241.8" cy="412.5" r="1.2"/><circle cx="239.9" cy="414.3" r="1.2"/><circle cx="245.5" cy="415.7" r="1.2"/><circle cx="246.5" cy="417.5" r="1.2"/><circle cx="239.0" cy="418.1" r="1.2"/><circle cx="240.8" cy="420.5" r="1.2"/><circle cx="239.9" cy="422.8" r="1.2"/><circle cx="241.2" cy="424.7" r="1.2"/><circle cx="256.8" cy="412.5" r="1.2"/><circle cx="259.7" cy="417.2" r="1.2"/><circle cx="263.4" cy="415.7" r="1.2"/><circle cx="266.8" cy="417.2" r="1.2"/><circle cx="265.3" cy="414.3" r="1.2"/><circle cx="270.0" cy="414.3" r="1.2"/><circle cx="270.9" cy="417.2" r="1.2"/><circle cx="253.1" cy="420.0" r="1.2"/><circle cx="255.0" cy="422.8" r="1.2"/><circle cx="256.8" cy="421.3" r="1.2"/><circle cx="252.1" cy="424.7" r="1.2"/><circle cx="258.7" cy="420.0" r="1.2"/><circle cx="209.8" cy="417.2" r="1.2"/><circle cx="209.8" cy="420.0" r="1.2"/><circle cx="219.2" cy="418.1" r="1.2"/><circle cx="222.0" cy="418.7" r="1.2"/><circle cx="223.9" cy="421.3" r="1.2"/><circle cx="225.4" cy="424.3" r="1.2"/><circle cx="225.8" cy="429.4" r="1.2"/><circle cx="227.7" cy="430.7" r="1.2"/><circle cx="229.6" cy="429.4" r="1.2"/><circle cx="226.7" cy="432.2" r="1.2"/><circle cx="228.6" cy="433.1" r="1.2"/><circle cx="231.4" cy="430.3" r="1.2"/><circle cx="208.9" cy="432.2" r="1.2"/><circle cx="210.8" cy="433.7" r="1.2"/><circle cx="213.6" cy="433.1" r="1.2"/><circle cx="216.4" cy="434.5" r="1.2"/><circle cx="221.1" cy="435.0" r="1.2"/><circle cx="245.5" cy="432.2" r="1.2"/><circle cx="247.4" cy="433.7" r="1.2"/><circle cx="249.9" cy="433.1" r="1.2"/><circle cx="252.1" cy="434.1" r="1.2"/><circle cx="244.6" cy="435.6" r="1.2"/><circle cx="259.7" cy="432.2" r="1.2"/><circle cx="261.5" cy="434.1" r="1.2"/><circle cx="258.7" cy="436.0" r="1.2"/><circle cx="266.2" cy="434.5" r="1.2"/><circle cx="270.0" cy="433.1" r="1.2"/><circle cx="267.2" cy="428.4" r="1.2"/><circle cx="270.0" cy="426.6" r="1.2"/><circle cx="274.5" cy="404.9" r="1.2"/><circle cx="276.4" cy="406.8" r="1.2"/><circle cx="275.3" cy="411.1" r="1.2"/><circle cx="276.8" cy="412.5" r="1.2"/><circle cx="273.9" cy="414.3" r="1.2"/><circle cx="280.5" cy="405.5" r="1.2"/><circle cx="282.4" cy="409.6" r="1.2"/><circle cx="286.5" cy="409.3" r="1.2"/><circle cx="293.3" cy="404.9" r="1.2"/><circle cx="298.4" cy="404.9" r="1.2"/><circle cx="300.3" cy="404.9" r="1.2"/><circle cx="306.5" cy="407.4" r="1.2"/><circle cx="308.7" cy="406.8" r="1.2"/><circle cx="310.6" cy="404.9" r="1.2"/><circle cx="316.2" cy="404.9" r="1.2"/><circle cx="302.1" cy="412.5" r="1.2"/><circle cx="314.7" cy="414.3" r="1.2"/><circle cx="286.2" cy="415.7" r="1.2"/><circle cx="292.7" cy="417.2" r="1.2"/><circle cx="297.8" cy="415.7" r="1.2"/><circle cx="299.0" cy="418.7" r="1.2"/><circle cx="294.6" cy="421.3" r="1.2"/><circle cx="277.7" cy="420.0" r="1.2"/><circle cx="279.6" cy="421.9" r="1.2"/><circle cx="276.4" cy="422.8" r="1.2"/><circle cx="278.3" cy="424.3" r="1.2"/><circle cx="275.3" cy="425.6" r="1.2"/><circle cx="280.1" cy="425.6" r="1.2"/><circle cx="273.9" cy="426.6" r="1.2"/><circle cx="277.7" cy="427.5" r="1.2"/><circle cx="275.8" cy="428.1" r="1.2"/><circle cx="310.6" cy="418.1" r="1.2"/><circle cx="313.4" cy="420.9" r="1.2"/><circle cx="312.5" cy="422.8" r="1.2"/><circle cx="315.9" cy="417.5" r="1.2"/><circle cx="301.6" cy="424.7" r="1.2"/><circle cx="304.0" cy="424.3" r="1.2"/><circle cx="308.4" cy="426.2" r="1.2"/><circle cx="311.5" cy="425.6" r="1.2"/><circle cx="290.9" cy="428.4" r="1.2"/><circle cx="295.6" cy="429.4" r="1.2"/><circle cx="297.1" cy="431.3" r="1.2"/><circle cx="295.6" cy="432.6" r="1.2"/><circle cx="297.8" cy="434.1" r="1.2"/><circle cx="296.5" cy="436.3" r="1.2"/><circle cx="274.5" cy="432.2" r="1.2"/><circle cx="280.5" cy="435.0" r="1.2"/><circle cx="284.7" cy="435.0" r="1.2"/><circle cx="287.1" cy="436.3" r="1.2"/><circle cx="290.9" cy="434.1" r="1.2"/><circle cx="118.2" cy="439.9" r="1.2"/><circle cx="119.7" cy="438.9" r="1.2"/><circle cx="126.7" cy="438.9" r="1.2"/><circle cx="144.5" cy="439.9" r="1.2"/><circle cx="146.4" cy="439.5" r="1.2"/><circle cx="149.8" cy="438.9" r="1.2"/><circle cx="153.9" cy="439.9" r="1.2"/><circle cx="142.7" cy="442.7" r="1.2"/><circle cx="132.9" cy="448.9" r="1.2"/><circle cx="135.1" cy="449.3" r="1.2"/><circle cx="136.6" cy="448.9" r="1.2"/><circle cx="142.3" cy="449.7" r="1.2"/><circle cx="145.5" cy="448.3" r="1.2"/><circle cx="149.8" cy="444.6" r="1.2"/><circle cx="154.9" cy="446.5" r="1.2"/><circle cx="173.9" cy="438.9" r="1.2"/><circle cx="180.4" cy="440.3" r="1.2"/><circle cx="183.3" cy="439.9" r="1.2"/><circle cx="186.1" cy="440.3" r="1.2"/><circle cx="189.5" cy="439.5" r="1.2"/><circle cx="157.9" cy="444.6" r="1.2"/><circle cx="159.8" cy="443.3" r="1.2"/><circle cx="163.9" cy="446.5" r="1.2"/><circle cx="165.8" cy="445.5" r="1.2"/><circle cx="167.7" cy="443.6" r="1.2"/><circle cx="170.1" cy="447.0" r="1.2"/><circle cx="171.0" cy="445.1" r="1.2"/><circle cx="166.3" cy="450.8" r="1.2"/><circle cx="169.2" cy="451.5" r="1.2"/><circle cx="171.0" cy="450.2" r="1.2"/><circle cx="168.2" cy="453.0" r="1.2"/><circle cx="176.7" cy="446.5" r="1.2"/><circle cx="182.0" cy="445.5" r="1.2"/><circle cx="184.6" cy="447.0" r="1.2"/><circle cx="179.5" cy="452.7" r="1.2"/><circle cx="191.7" cy="445.5" r="1.2"/><circle cx="196.4" cy="446.5" r="1.2"/><circle cx="192.1" cy="450.2" r="1.2"/><circle cx="193.6" cy="449.7" r="1.2"/><circle cx="201.1" cy="442.7" r="1.2"/><circle cx="204.0" cy="445.5" r="1.2"/><circle cx="203.0" cy="448.3" r="1.2"/><circle cx="202.1" cy="451.2" r="1.2"/><circle cx="200.2" cy="453.0" r="1.2"/><circle cx="205.3" cy="453.0" r="1.2"/><circle cx="210.5" cy="444.6" r="1.2"/><circle cx="211.5" cy="449.3" r="1.2"/><circle cx="210.9" cy="453.0" r="1.2"/><circle cx="215.2" cy="445.9" r="1.2"/><circle cx="217.1" cy="447.4" r="1.2"/><circle cx="219.9" cy="445.5" r="1.2"/><circle cx="159.8" cy="456.8" r="1.2"/><circle cx="162.6" cy="457.2" r="1.2"/><circle cx="163.5" cy="461.5" r="1.2"/><circle cx="160.7" cy="464.3" r="1.2"/><circle cx="157.9" cy="466.2" r="1.2"/><circle cx="168.2" cy="466.2" r="1.2"/><circle cx="168.8" cy="467.7" r="1.2"/><circle cx="176.7" cy="456.8" r="1.2"/><circle cx="178.2" cy="460.2" r="1.2"/><circle cx="180.1" cy="461.5" r="1.2"/><circle cx="181.4" cy="460.2" r="1.2"/><circle cx="184.2" cy="459.6" r="1.2"/><circle cx="185.1" cy="461.5" r="1.2"/><circle cx="177.1" cy="465.8" r="1.2"/><circle cx="180.4" cy="467.1" r="1.2"/><circle cx="223.5" cy="439.9" r="1.2"/><circle cx="222.9" cy="442.7" r="1.2"/><circle cx="241.7" cy="438.9" r="1.2"/><circle cx="246.4" cy="440.3" r="1.2"/><circle cx="247.4" cy="442.1" r="1.2"/><circle cx="256.8" cy="438.4" r="1.2"/><circle cx="260.5" cy="438.9" r="1.2"/><circle cx="265.2" cy="439.5" r="1.2"/><circle cx="267.1" cy="438.6" r="1.2"/><circle cx="277.5" cy="438.9" r="1.2"/><circle cx="225.8" cy="448.3" r="1.2"/><circle cx="228.6" cy="448.3" r="1.2"/><circle cx="230.5" cy="447.0" r="1.2"/><circle cx="232.3" cy="446.5" r="1.2"/><circle cx="227.3" cy="451.5" r="1.2"/><circle cx="233.3" cy="450.8" r="1.2"/><circle cx="236.7" cy="449.7" r="1.2"/><circle cx="238.0" cy="452.7" r="1.2"/><circle cx="239.3" cy="453.4" r="1.2"/><circle cx="250.2" cy="447.8" r="1.2"/><circle cx="252.1" cy="451.2" r="1.2"/><circle cx="254.9" cy="453.4" r="1.2"/><circle cx="259.6" cy="449.7" r="1.2"/><circle cx="260.5" cy="452.1" r="1.2"/><circle cx="262.4" cy="446.5" r="1.2"/><circle cx="261.5" cy="454.9" r="1.2"/><circle cx="270.9" cy="452.1" r="1.2"/><circle cx="273.7" cy="443.6" r="1.2"/><circle cx="276.5" cy="445.5" r="1.2"/><circle cx="278.4" cy="447.0" r="1.2"/><circle cx="229.5" cy="458.3" r="1.2"/><circle cx="231.4" cy="459.1" r="1.2"/><circle cx="226.1" cy="459.1" r="1.2"/><circle cx="228.6" cy="462.1" r="1.2"/><circle cx="233.7" cy="462.1" r="1.2"/><circle cx="248.0" cy="456.8" r="1.2"/><circle cx="247.4" cy="460.9" r="1.2"/><circle cx="258.7" cy="467.7" r="1.2"/><circle cx="297.9" cy="439.2" r="1.2"/><circle cx="170.6" cy="335.8" r="1.2"/><circle cx="174.4" cy="336.8" r="1.2"/><circle cx="174.1" cy="333.7" r="1.2"/><circle cx="172.4" cy="340.9" r="1.2"/><circle cx="172.0" cy="345.0" r="1.2"/><circle cx="168.9" cy="346.7" r="1.2"/><circle cx="160.7" cy="346.4" r="1.2"/><circle cx="245.0" cy="368.5" r="1.2"/><circle cx="247.1" cy="370.0" r="1.2"/><circle cx="252.1" cy="369.2" r="1.2"/><circle cx="254.2" cy="371.4" r="1.2"/><circle cx="264.9" cy="368.5" r="1.2"/><circle cx="269.2" cy="369.2" r="1.2"/><circle cx="273.5" cy="369.2" r="1.2"/><circle cx="279.2" cy="367.8" r="1.2"/><circle cx="282.7" cy="369.2" r="1.2"/><circle cx="285.6" cy="372.8" r="1.2"/><circle cx="288.4" cy="373.5" r="1.2"/><circle cx="258.5" cy="370.7" r="1.2"/><circle cx="261.4" cy="374.9" r="1.2"/><circle cx="277.7" cy="357.8" r="1.2"/><circle cx="281.3" cy="362.1" r="1.2"/></g><g fill="#7c7c7c"><circle cx="113.4" cy="379.2" r="1.2"/><circle cx="114.2" cy="380.1" r="1.2"/><circle cx="115.8" cy="372.0" r="1.2"/><circle cx="112.1" cy="383.6" r="1.2"/><circle cx="113.6" cy="374.5" r="1.2"/><circle cx="118.0" cy="378.1" r="1.2"/><circle cx="117.0" cy="378.1" r="1.2"/><circle cx="115.8" cy="373.3" r="1.2"/><circle cx="115.8" cy="384.0" r="1.2"/><circle cx="115.1" cy="382.1" r="1.2"/><circle cx="116.0" cy="372.0" r="1.2"/><circle cx="116.5" cy="379.9" r="1.2"/><circle cx="113.8" cy="371.5" r="1.2"/><circle cx="117.2" cy="378.1" r="1.2"/><circle cx="116.3" cy="384.2" r="1.2"/><circle cx="116.3" cy="384.8" r="1.2"/><circle cx="114.4" cy="383.0" r="1.2"/><circle cx="114.7" cy="385.0" r="1.2"/><circle cx="117.3" cy="372.5" r="1.2"/><circle cx="112.8" cy="374.3" r="1.2"/><circle cx="117.8" cy="377.5" r="1.2"/><circle cx="115.8" cy="375.5" r="1.2"/><circle cx="115.0" cy="376.8" r="1.2"/><circle cx="114.1" cy="379.8" r="1.2"/><circle cx="115.5" cy="384.6" r="1.2"/><circle cx="116.1" cy="384.9" r="1.2"/><circle cx="117.1" cy="385.9" r="1.2"/><circle cx="116.0" cy="373.4" r="1.2"/><circle cx="117.2" cy="385.5" r="1.2"/><circle cx="117.4" cy="379.5" r="1.2"/><circle cx="116.3" cy="374.2" r="1.2"/><circle cx="117.0" cy="379.6" r="1.2"/><circle cx="113.7" cy="372.0" r="1.2"/><circle cx="117.1" cy="385.8" r="1.2"/><circle cx="112.5" cy="383.0" r="1.2"/><circle cx="114.5" cy="373.3" r="1.2"/><circle cx="113.8" cy="382.5" r="1.2"/><circle cx="117.2" cy="371.7" r="1.2"/><circle cx="115.7" cy="371.7" r="1.2"/><circle cx="116.3" cy="376.0" r="1.2"/><circle cx="117.3" cy="385.7" r="1.2"/><circle cx="115.0" cy="386.0" r="1.2"/><circle cx="113.4" cy="387.0" r="1.2"/><circle cx="114.5" cy="386.4" r="1.2"/><circle cx="113.0" cy="391.3" r="1.2"/><circle cx="114.6" cy="388.0" r="1.2"/><circle cx="112.5" cy="397.3" r="1.2"/><circle cx="113.5" cy="398.5" r="1.2"/><circle cx="115.6" cy="390.9" r="1.2"/><circle cx="114.0" cy="392.8" r="1.2"/><circle cx="114.7" cy="393.7" r="1.2"/><circle cx="114.4" cy="394.1" r="1.2"/><circle cx="115.8" cy="392.6" r="1.2"/><circle cx="113.9" cy="395.4" r="1.2"/><circle cx="113.2" cy="389.9" r="1.2"/><circle cx="115.9" cy="392.8" r="1.2"/><circle cx="114.3" cy="386.1" r="1.2"/><circle cx="113.8" cy="393.5" r="1.2"/><circle cx="112.4" cy="394.0" r="1.2"/><circle cx="114.6" cy="386.8" r="1.2"/><circle cx="114.6" cy="392.1" r="1.2"/><circle cx="114.8" cy="390.6" r="1.2"/><circle cx="114.9" cy="395.6" r="1.2"/><circle cx="112.4" cy="386.8" r="1.2"/><circle cx="114.8" cy="398.5" r="1.2"/><circle cx="113.2" cy="391.9" r="1.2"/><circle cx="114.5" cy="390.2" r="1.2"/><circle cx="113.6" cy="390.1" r="1.2"/><circle cx="117.1" cy="364.7" r="1.2"/><circle cx="116.9" cy="361.9" r="1.2"/><circle cx="118.3" cy="357.3" r="1.2"/><circle cx="117.7" cy="366.6" r="1.2"/><circle cx="116.9" cy="359.9" r="1.2"/><circle cx="118.4" cy="360.1" r="1.2"/><circle cx="116.6" cy="362.7" r="1.2"/><circle cx="148.7" cy="372.2" r="1.2"/><circle cx="144.5" cy="377.3" r="1.2"/><circle cx="150.2" cy="379.6" r="1.2"/><circle cx="150.4" cy="373.7" r="1.2"/><circle cx="144.7" cy="384.3" r="1.2"/><circle cx="150.7" cy="379.9" r="1.2"/><circle cx="143.5" cy="372.7" r="1.2"/><circle cx="146.8" cy="374.2" r="1.2"/><circle cx="149.9" cy="388.4" r="1.2"/><circle cx="143.0" cy="376.1" r="1.2"/><circle cx="149.9" cy="384.1" r="1.2"/><circle cx="149.9" cy="377.6" r="1.2"/><circle cx="142.4" cy="376.4" r="1.2"/><circle cx="149.7" cy="376.0" r="1.2"/><circle cx="144.8" cy="379.2" r="1.2"/><circle cx="145.6" cy="379.0" r="1.2"/><circle cx="151.1" cy="373.4" r="1.2"/><circle cx="141.1" cy="390.8" r="1.2"/><circle cx="150.7" cy="391.7" r="1.2"/><circle cx="145.8" cy="390.9" r="1.2"/><circle cx="151.2" cy="374.9" r="1.2"/><circle cx="149.2" cy="388.4" r="1.2"/><circle cx="148.3" cy="381.4" r="1.2"/><circle cx="144.2" cy="377.5" r="1.2"/><circle cx="143.5" cy="371.5" r="1.2"/><circle cx="147.5" cy="376.3" r="1.2"/><circle cx="149.9" cy="371.0" r="1.2"/><circle cx="150.9" cy="385.3" r="1.2"/><circle cx="151.2" cy="389.7" r="1.2"/><circle cx="150.9" cy="382.7" r="1.2"/><circle cx="141.1" cy="386.4" r="1.2"/><circle cx="142.9" cy="376.6" r="1.2"/><circle cx="148.3" cy="381.5" r="1.2"/><circle cx="145.6" cy="390.7" r="1.2"/><circle cx="147.7" cy="377.5" r="1.2"/><circle cx="143.8" cy="389.0" r="1.2"/><circle cx="146.2" cy="387.2" r="1.2"/><circle cx="144.9" cy="374.3" r="1.2"/><circle cx="146.9" cy="388.0" r="1.2"/><circle cx="142.9" cy="387.4" r="1.2"/><circle cx="151.1" cy="387.7" r="1.2"/><circle cx="150.1" cy="370.2" r="1.2"/><circle cx="147.9" cy="389.0" r="1.2"/><circle cx="141.5" cy="376.0" r="1.2"/><circle cx="144.0" cy="381.6" r="1.2"/><circle cx="145.7" cy="380.4" r="1.2"/><circle cx="149.5" cy="370.0" r="1.2"/><circle cx="141.6" cy="372.8" r="1.2"/><circle cx="142.4" cy="371.5" r="1.2"/><circle cx="151.7" cy="388.8" r="1.2"/><circle cx="141.9" cy="381.0" r="1.2"/><circle cx="144.5" cy="376.9" r="1.2"/><circle cx="144.9" cy="384.2" r="1.2"/><circle cx="147.5" cy="377.9" r="1.2"/><circle cx="143.1" cy="377.2" r="1.2"/><circle cx="142.4" cy="382.2" r="1.2"/><circle cx="148.9" cy="378.4" r="1.2"/><circle cx="141.9" cy="373.9" r="1.2"/><circle cx="145.1" cy="383.3" r="1.2"/><circle cx="149.6" cy="378.4" r="1.2"/><circle cx="149.8" cy="383.7" r="1.2"/><circle cx="145.7" cy="378.2" r="1.2"/><circle cx="146.5" cy="385.5" r="1.2"/><circle cx="145.6" cy="385.3" r="1.2"/><circle cx="146.1" cy="375.4" r="1.2"/><circle cx="146.9" cy="385.3" r="1.2"/><circle cx="141.8" cy="379.3" r="1.2"/><circle cx="145.7" cy="389.4" r="1.2"/><circle cx="151.3" cy="378.2" r="1.2"/><circle cx="150.9" cy="387.4" r="1.2"/><circle cx="143.9" cy="380.2" r="1.2"/><circle cx="142.4" cy="387.9" r="1.2"/><circle cx="148.3" cy="389.5" r="1.2"/><circle cx="149.7" cy="384.7" r="1.2"/><circle cx="149.1" cy="382.4" r="1.2"/><circle cx="142.1" cy="382.9" r="1.2"/><circle cx="141.1" cy="373.2" r="1.2"/><circle cx="149.5" cy="371.0" r="1.2"/><circle cx="142.0" cy="372.2" r="1.2"/><circle cx="150.7" cy="373.9" r="1.2"/><circle cx="141.3" cy="388.5" r="1.2"/><circle cx="142.3" cy="388.6" r="1.2"/><circle cx="148.4" cy="388.4" r="1.2"/><circle cx="151.5" cy="382.7" r="1.2"/><circle cx="149.8" cy="370.8" r="1.2"/><circle cx="149.4" cy="381.2" r="1.2"/><circle cx="148.9" cy="372.3" r="1.2"/><circle cx="149.2" cy="390.6" r="1.2"/><circle cx="141.7" cy="377.1" r="1.2"/><circle cx="147.2" cy="388.2" r="1.2"/><circle cx="143.7" cy="374.0" r="1.2"/><circle cx="143.7" cy="383.6" r="1.2"/><circle cx="149.3" cy="378.7" r="1.2"/><circle cx="145.0" cy="378.7" r="1.2"/><circle cx="144.9" cy="379.2" r="1.2"/><circle cx="141.9" cy="381.0" r="1.2"/><circle cx="151.7" cy="379.1" r="1.2"/><circle cx="149.2" cy="373.5" r="1.2"/><circle cx="148.6" cy="386.6" r="1.2"/><circle cx="148.4" cy="381.4" r="1.2"/><circle cx="146.3" cy="384.1" r="1.2"/><circle cx="150.9" cy="373.3" r="1.2"/><circle cx="142.1" cy="386.5" r="1.2"/><circle cx="151.1" cy="381.4" r="1.2"/><circle cx="145.9" cy="385.8" r="1.2"/><circle cx="143.0" cy="375.9" r="1.2"/><circle cx="143.2" cy="382.9" r="1.2"/><circle cx="144.5" cy="375.1" r="1.2"/><circle cx="148.6" cy="391.0" r="1.2"/><circle cx="144.3" cy="385.5" r="1.2"/><circle cx="145.5" cy="388.8" r="1.2"/><circle cx="147.4" cy="375.9" r="1.2"/><circle cx="143.4" cy="370.5" r="1.2"/><circle cx="146.3" cy="378.4" r="1.2"/><circle cx="142.9" cy="377.9" r="1.2"/><circle cx="147.1" cy="398.2" r="1.2"/><circle cx="145.4" cy="399.9" r="1.2"/><circle cx="148.6" cy="396.8" r="1.2"/><circle cx="148.4" cy="398.7" r="1.2"/><circle cx="151.8" cy="396.5" r="1.2"/><circle cx="148.6" cy="397.8" r="1.2"/><circle cx="152.1" cy="395.2" r="1.2"/><circle cx="151.0" cy="399.7" r="1.2"/><circle cx="148.4" cy="393.8" r="1.2"/><circle cx="146.2" cy="397.7" r="1.2"/><circle cx="150.4" cy="399.7" r="1.2"/><circle cx="152.1" cy="393.9" r="1.2"/><circle cx="145.8" cy="394.1" r="1.2"/><circle cx="145.8" cy="397.6" r="1.2"/><circle cx="152.2" cy="399.2" r="1.2"/><circle cx="146.4" cy="398.9" r="1.2"/><circle cx="147.0" cy="395.4" r="1.2"/><circle cx="150.9" cy="392.7" r="1.2"/><circle cx="144.9" cy="398.7" r="1.2"/><circle cx="146.8" cy="394.9" r="1.2"/><circle cx="149.5" cy="397.4" r="1.2"/><circle cx="144.1" cy="394.7" r="1.2"/><circle cx="148.1" cy="395.9" r="1.2"/><circle cx="146.0" cy="396.7" r="1.2"/><circle cx="153.1" cy="395.1" r="1.2"/><circle cx="149.2" cy="393.0" r="1.2"/><circle cx="146.6" cy="397.3" r="1.2"/><circle cx="145.1" cy="399.1" r="1.2"/><circle cx="152.6" cy="392.8" r="1.2"/><circle cx="152.9" cy="395.0" r="1.2"/><circle cx="151.3" cy="398.1" r="1.2"/><circle cx="146.8" cy="397.4" r="1.2"/><circle cx="150.2" cy="398.4" r="1.2"/><circle cx="146.5" cy="398.0" r="1.2"/><circle cx="153.1" cy="397.4" r="1.2"/><circle cx="149.1" cy="392.9" r="1.2"/><circle cx="147.0" cy="401.8" r="1.2"/><circle cx="148.7" cy="403.4" r="1.2"/><circle cx="147.5" cy="400.9" r="1.2"/><circle cx="148.2" cy="403.2" r="1.2"/><circle cx="144.4" cy="404.4" r="1.2"/><circle cx="148.2" cy="400.6" r="1.2"/><circle cx="150.5" cy="400.7" r="1.2"/><circle cx="145.7" cy="403.6" r="1.2"/><circle cx="147.8" cy="402.8" r="1.2"/><circle cx="148.2" cy="402.3" r="1.2"/><circle cx="133.0" cy="402.3" r="1.2"/><circle cx="130.7" cy="409.3" r="1.2"/><circle cx="137.2" cy="407.1" r="1.2"/><circle cx="137.0" cy="404.7" r="1.2"/><circle cx="132.5" cy="405.0" r="1.2"/><circle cx="138.3" cy="400.5" r="1.2"/><circle cx="134.8" cy="403.2" r="1.2"/><circle cx="137.3" cy="404.6" r="1.2"/><circle cx="133.2" cy="405.2" r="1.2"/><circle cx="135.1" cy="410.0" r="1.2"/><circle cx="133.4" cy="411.0" r="1.2"/><circle cx="131.1" cy="403.5" r="1.2"/><circle cx="130.9" cy="401.5" r="1.2"/><circle cx="137.4" cy="409.5" r="1.2"/><circle cx="131.8" cy="402.5" r="1.2"/><circle cx="134.0" cy="409.7" r="1.2"/><circle cx="137.7" cy="409.7" r="1.2"/><circle cx="135.6" cy="401.9" r="1.2"/><circle cx="133.8" cy="402.5" r="1.2"/><circle cx="135.0" cy="407.4" r="1.2"/><circle cx="131.9" cy="403.3" r="1.2"/><circle cx="137.4" cy="400.4" r="1.2"/><circle cx="137.6" cy="411.6" r="1.2"/><circle cx="139.0" cy="405.0" r="1.2"/><circle cx="135.2" cy="407.6" r="1.2"/><circle cx="136.0" cy="412.7" r="1.2"/><circle cx="136.5" cy="403.9" r="1.2"/><circle cx="138.2" cy="406.3" r="1.2"/><circle cx="135.7" cy="409.4" r="1.2"/><circle cx="130.0" cy="410.0" r="1.2"/><circle cx="136.3" cy="406.4" r="1.2"/><circle cx="135.0" cy="406.0" r="1.2"/><circle cx="131.8" cy="406.9" r="1.2"/><circle cx="130.4" cy="406.5" r="1.2"/><circle cx="136.1" cy="405.8" r="1.2"/><circle cx="135.4" cy="412.5" r="1.2"/><circle cx="137.1" cy="415.4" r="1.2"/><circle cx="136.3" cy="424.2" r="1.2"/><circle cx="130.4" cy="419.5" r="1.2"/><circle cx="131.9" cy="414.4" r="1.2"/><circle cx="134.3" cy="429.7" r="1.2"/><circle cx="132.6" cy="428.7" r="1.2"/><circle cx="135.6" cy="415.4" r="1.2"/><circle cx="136.9" cy="423.8" r="1.2"/><circle cx="137.4" cy="425.9" r="1.2"/><circle cx="135.9" cy="419.2" r="1.2"/><circle cx="136.5" cy="429.8" r="1.2"/><circle cx="136.9" cy="420.9" r="1.2"/><circle cx="136.1" cy="421.7" r="1.2"/><circle cx="130.9" cy="413.8" r="1.2"/><circle cx="130.6" cy="416.6" r="1.2"/><circle cx="131.3" cy="421.9" r="1.2"/><circle cx="135.6" cy="422.7" r="1.2"/><circle cx="133.4" cy="424.7" r="1.2"/><circle cx="132.4" cy="421.4" r="1.2"/><circle cx="136.1" cy="420.2" r="1.2"/><circle cx="162.5" cy="395.2" r="1.2"/><circle cx="165.5" cy="380.3" r="1.2"/><circle cx="163.5" cy="384.8" r="1.2"/><circle cx="164.8" cy="376.3" r="1.2"/><circle cx="161.5" cy="375.9" r="1.2"/><circle cx="165.8" cy="374.0" r="1.2"/><circle cx="164.0" cy="375.5" r="1.2"/><circle cx="162.7" cy="374.8" r="1.2"/><circle cx="163.7" cy="374.7" r="1.2"/><circle cx="161.7" cy="373.1" r="1.2"/><circle cx="162.4" cy="383.7" r="1.2"/><circle cx="161.8" cy="370.6" r="1.2"/><circle cx="164.0" cy="381.4" r="1.2"/><circle cx="165.4" cy="371.4" r="1.2"/><circle cx="163.7" cy="381.1" r="1.2"/><circle cx="161.6" cy="397.0" r="1.2"/><circle cx="162.7" cy="372.6" r="1.2"/><circle cx="164.1" cy="374.6" r="1.2"/><circle cx="164.9" cy="379.7" r="1.2"/><circle cx="162.2" cy="371.5" r="1.2"/><circle cx="165.5" cy="377.7" r="1.2"/><circle cx="165.8" cy="383.0" r="1.2"/><circle cx="167.6" cy="401.9" r="1.2"/><circle cx="163.1" cy="401.5" r="1.2"/><circle cx="166.8" cy="406.2" r="1.2"/><circle cx="163.7" cy="399.2" r="1.2"/><circle cx="165.9" cy="410.6" r="1.2"/><circle cx="165.3" cy="398.0" r="1.2"/><circle cx="161.7" cy="399.2" r="1.2"/><circle cx="162.6" cy="398.5" r="1.2"/><circle cx="161.9" cy="406.5" r="1.2"/><circle cx="167.4" cy="400.6" r="1.2"/><circle cx="167.8" cy="404.2" r="1.2"/><circle cx="166.7" cy="409.9" r="1.2"/><circle cx="167.6" cy="398.4" r="1.2"/><circle cx="163.5" cy="405.9" r="1.2"/><circle cx="167.7" cy="399.1" r="1.2"/><circle cx="163.4" cy="409.0" r="1.2"/><circle cx="162.3" cy="418.1" r="1.2"/><circle cx="163.8" cy="421.8" r="1.2"/><circle cx="168.0" cy="415.3" r="1.2"/><circle cx="166.7" cy="422.5" r="1.2"/><circle cx="167.3" cy="420.2" r="1.2"/><circle cx="168.0" cy="417.7" r="1.2"/><circle cx="164.4" cy="416.0" r="1.2"/><circle cx="167.0" cy="419.2" r="1.2"/><circle cx="163.4" cy="415.2" r="1.2"/><circle cx="166.5" cy="420.9" r="1.2"/><circle cx="166.5" cy="418.0" r="1.2"/><circle cx="164.9" cy="415.0" r="1.2"/><circle cx="166.5" cy="413.3" r="1.2"/><circle cx="164.8" cy="422.9" r="1.2"/><circle cx="166.2" cy="414.3" r="1.2"/><circle cx="163.2" cy="424.0" r="1.2"/><circle cx="166.0" cy="424.4" r="1.2"/><circle cx="167.6" cy="418.8" r="1.2"/><circle cx="167.8" cy="422.5" r="1.2"/><circle cx="163.8" cy="417.8" r="1.2"/><circle cx="162.0" cy="418.2" r="1.2"/><circle cx="168.2" cy="414.4" r="1.2"/><circle cx="165.5" cy="414.4" r="1.2"/><circle cx="162.1" cy="421.4" r="1.2"/><circle cx="163.2" cy="413.6" r="1.2"/><circle cx="162.6" cy="421.4" r="1.2"/><circle cx="165.6" cy="413.2" r="1.2"/><circle cx="163.1" cy="425.6" r="1.2"/><circle cx="163.0" cy="420.3" r="1.2"/><circle cx="164.4" cy="423.2" r="1.2"/><circle cx="165.7" cy="423.3" r="1.2"/><circle cx="165.2" cy="415.4" r="1.2"/><circle cx="162.7" cy="414.0" r="1.2"/><circle cx="167.3" cy="414.5" r="1.2"/><circle cx="161.7" cy="425.6" r="1.2"/><circle cx="162.9" cy="424.6" r="1.2"/><circle cx="162.1" cy="419.0" r="1.2"/><circle cx="163.1" cy="423.8" r="1.2"/><circle cx="172.9" cy="423.9" r="1.2"/><circle cx="174.1" cy="425.2" r="1.2"/><circle cx="170.8" cy="423.6" r="1.2"/><circle cx="171.6" cy="420.7" r="1.2"/><circle cx="174.7" cy="423.6" r="1.2"/><circle cx="174.5" cy="421.2" r="1.2"/><circle cx="172.3" cy="422.8" r="1.2"/><circle cx="173.8" cy="420.5" r="1.2"/><circle cx="170.8" cy="422.9" r="1.2"/><circle cx="168.6" cy="423.3" r="1.2"/></g><g fill="#000"><path d="M169.20,338.20 L172.10,344.00 L166.30,344.00 Z"/><path d="M204.10,356.90 L207.00,362.70 L201.20,362.70 Z"/><path d="M292.20,375.40 L295.10,381.20 L289.30,381.20 Z"/><path d="M306.30,387.70 L309.20,393.50 L303.40,393.50 Z"/><path d="M98.20,398.50 L101.10,404.30 L95.30,404.30 Z"/><path d="M238.20,426.10 L241.10,431.90 L235.30,431.90 Z"/><path d="M174.10,431.70 L177.00,437.50 L171.20,437.50 Z"/><path d="M185.60,463.30 L188.50,469.10 L182.70,469.10 Z"/><path d="M234.40,464.50 L237.30,470.30 L231.50,470.30 Z"/></g><path d="M115.80,392.90 A60.20,29.50 0 0 1 176.00,363.40 A84.00,29.50 0 0 1 260.00,392.90 A84.00,20.10 0 0 1 176.00,413.00 A60.20,20.10 0 0 1 115.80,392.90 Z" fill="none" stroke="#000" stroke-width="1.75"/><path d="M172.00,388.90 L180.00,396.90 M172.00,396.90 L180.00,388.90" stroke="#000" stroke-width="1.5" fill="none"/><g fill="#000"><path d="M158.90,360.40 L161.20,365.00 L156.60,365.00 Z"/></g><path d="M155.10,358.60 L162.70,366.20 M155.10,366.20 L162.70,358.60" stroke="#0000ff" stroke-width="1.6" fill="none"/><text x="125.3" y="359.6" font-size="12" font-weight="bold" fill="#0000ff" stroke="#0000ff" stroke-width="0.25" textLength="67.8" lengthAdjust="spacingAndGlyphs">DES-Cand-2</text></g><rect x="62.55" y="285.15" width="287.65" height="201.70000000000005" fill="none" stroke="#000" stroke-width="2.1"/><path d="M57.3,308.70 H62.55 M57.3,350.80 H62.55 M57.3,392.90 H62.55 M57.3,435.00 H62.55 M57.3,477.10 H62.55 M116.00,486.85 V491.45 M176.00,486.85 V491.45 M236.00,486.85 V491.45 M296.00,486.85 V491.45" stroke="#000" stroke-width="0.9" fill="none"/><text x="54.2" y="313.10" font-size="13.6" text-anchor="end" textLength="19.09" lengthAdjust="spacingAndGlyphs" stroke="#000" stroke-width="0">1.0</text><text x="54.2" y="355.20" font-size="13.6" text-anchor="end" textLength="19.09" lengthAdjust="spacingAndGlyphs" stroke="#000" stroke-width="0">0.5</text><text x="54.2" y="397.30" font-size="13.6" text-anchor="end" textLength="19.09" lengthAdjust="spacingAndGlyphs" stroke="#000" stroke-width="0">0.0</text><text x="54.2" y="439.40" font-size="13.6" text-anchor="end" textLength="29.16" lengthAdjust="spacingAndGlyphs" stroke="#000" stroke-width="0">−0.5</text><text x="54.2" y="481.50" font-size="13.6" text-anchor="end" textLength="29.16" lengthAdjust="spacingAndGlyphs" stroke="#000" stroke-width="0">−1.0</text><text x="116.00" y="504.55" font-size="13.6" text-anchor="middle" textLength="19.09" lengthAdjust="spacingAndGlyphs" stroke="#000" stroke-width="0">0.5</text><text x="176.00" y="504.55" font-size="13.6" text-anchor="middle" textLength="19.09" lengthAdjust="spacingAndGlyphs" stroke="#000" stroke-width="0">0.0</text><text x="236.00" y="504.55" font-size="13.6" text-anchor="middle" textLength="29.16" lengthAdjust="spacingAndGlyphs" stroke="#000" stroke-width="0">−0.5</text><text x="296.00" y="504.55" font-size="13.6" text-anchor="middle" textLength="29.16" lengthAdjust="spacingAndGlyphs" stroke="#000" stroke-width="0">−1.0</text><text x="205.5" y="279.65" font-size="15.0" text-anchor="middle" textLength="273.5" lengthAdjust="spacingAndGlyphs" stroke="#000" stroke-width="0">Centered on (RA, Dec) = (340.25, 7.31)</text><text x="205.5" y="521.05" font-size="15.0" text-anchor="middle" textLength="70.5" lengthAdjust="spacingAndGlyphs" stroke="#000" stroke-width="0">ΔRA (deg)</text><text transform="translate(17.1,386.90) rotate(-90)" x="0" y="0" font-size="15.0" text-anchor="middle" textLength="77.05" lengthAdjust="spacingAndGlyphs" stroke="#000" stroke-width="0">ΔDec (deg)</text><rect x="86" y="522.6" width="240.4" height="109.6" rx="2" fill="#fff" fill-opacity="0.85" stroke="#d0d0d0" stroke-width="1"/><rect x="90.7" y="528.2" width="23.7" height="7.9" fill="#fff" stroke="#000" stroke-width="1.4"/><text x="125" y="536.70" font-size="13.2" text-anchor="start" textLength="196.0" lengthAdjust="spacingAndGlyphs" stroke="#000" stroke-width="0">IceCube Localization (90% C.L.)</text><text x="125" y="554.40" font-size="13.2" text-anchor="start" textLength="87.34" lengthAdjust="spacingAndGlyphs" stroke="#000" stroke-width="0">Alert Centroid</text><text x="125" y="572.10" font-size="13.2" text-anchor="start" textLength="191.42" lengthAdjust="spacingAndGlyphs" stroke="#000" stroke-width="0">Poor Quality DiffImg Candidate</text><text x="125" y="589.80" font-size="13.2" text-anchor="start" textLength="195.38" lengthAdjust="spacingAndGlyphs" stroke="#000" stroke-width="0">Good Quality DiffImg Candidate</text><text x="125" y="607.50" font-size="13.2" text-anchor="start" textLength="115.45" lengthAdjust="spacingAndGlyphs" stroke="#000" stroke-width="0">Pipeline Candidate</text><text x="125" y="625.20" font-size="13.2" text-anchor="start" textLength="92.13" lengthAdjust="spacingAndGlyphs" stroke="#000" stroke-width="0">TXS 0506+056</text><path d="M98.60,546.80 L107.00,555.20 M98.60,555.20 L107.00,546.80" stroke="#000" stroke-width="1.5" fill="none"/><circle cx="102.8" cy="568.5" r="1.05" fill="#6e6e6e"/><g fill="#000"><path d="M102.80,583.70 L105.70,589.50 L99.90,589.50 Z"/></g><path d="M98.60,600.20 L107.00,608.60 M98.60,608.60 L107.00,600.20" stroke="#0000ff" stroke-width="1.5" fill="none"/><path d="M99.00,622.00 L106.80,622.00 M102.90,618.10 L102.90,625.90" stroke="#ff0000" stroke-width="1.8" fill="none"/></svg></body></html>
